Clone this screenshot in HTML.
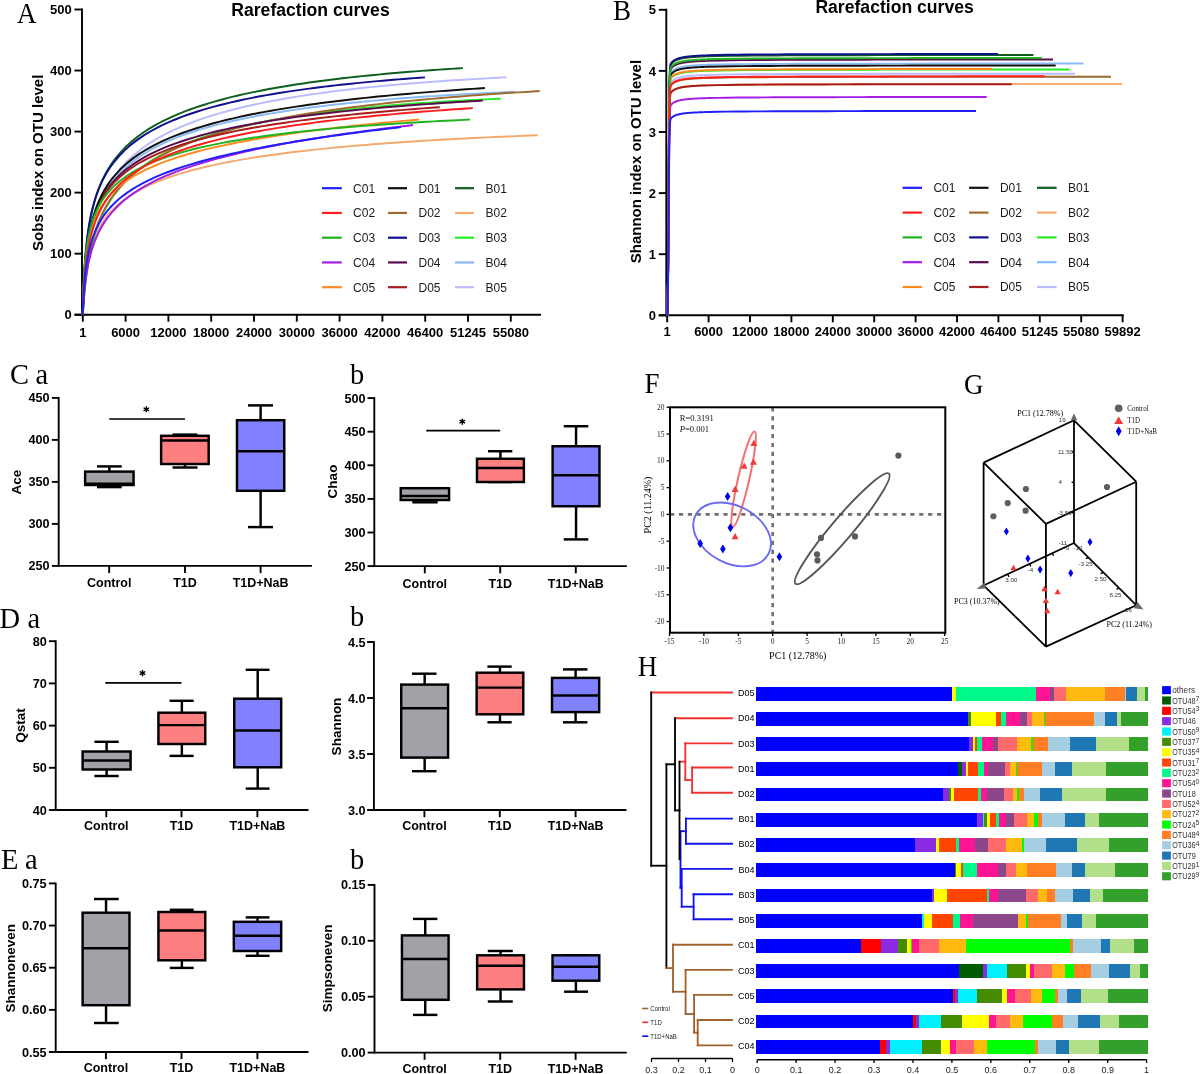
<!DOCTYPE html>
<html><head><meta charset="utf-8"><style>
html,body{margin:0;padding:0;background:#fff;}
body{width:1200px;height:1074px;overflow:hidden;}
svg{display:block;will-change:transform;}
</style></head><body>
<svg width="1200" height="1074" viewBox="0 0 1200 1074">
<rect x="0" y="0" width="1200" height="1074" fill="#fff"/>
<line x1="82.00" y1="8.60" x2="82.00" y2="315.60" stroke="#000" stroke-width="1.9" />
<line x1="74.50" y1="314.70" x2="541.00" y2="314.70" stroke="#000" stroke-width="1.9" />
<line x1="74.50" y1="9.50" x2="82.00" y2="9.50" stroke="#000" stroke-width="1.9" />
<text x="71.80" y="14.10" font-family="Liberation Sans" font-size="13" font-weight="bold" text-anchor="end" fill="#000" >500</text>
<line x1="74.50" y1="70.54" x2="82.00" y2="70.54" stroke="#000" stroke-width="1.9" />
<text x="71.80" y="75.14" font-family="Liberation Sans" font-size="13" font-weight="bold" text-anchor="end" fill="#000" >400</text>
<line x1="74.50" y1="131.58" x2="82.00" y2="131.58" stroke="#000" stroke-width="1.9" />
<text x="71.80" y="136.18" font-family="Liberation Sans" font-size="13" font-weight="bold" text-anchor="end" fill="#000" >300</text>
<line x1="74.50" y1="192.62" x2="82.00" y2="192.62" stroke="#000" stroke-width="1.9" />
<text x="71.80" y="197.22" font-family="Liberation Sans" font-size="13" font-weight="bold" text-anchor="end" fill="#000" >200</text>
<line x1="74.50" y1="253.66" x2="82.00" y2="253.66" stroke="#000" stroke-width="1.9" />
<text x="71.80" y="258.26" font-family="Liberation Sans" font-size="13" font-weight="bold" text-anchor="end" fill="#000" >100</text>
<line x1="74.50" y1="314.70" x2="82.00" y2="314.70" stroke="#000" stroke-width="1.9" />
<text x="71.80" y="319.30" font-family="Liberation Sans" font-size="13" font-weight="bold" text-anchor="end" fill="#000" >0</text>
<line x1="82.80" y1="314.70" x2="82.80" y2="321.70" stroke="#000" stroke-width="1.9" />
<text x="82.80" y="336.70" font-family="Liberation Sans" font-size="13" font-weight="bold" text-anchor="middle" fill="#000" >1</text>
<line x1="125.60" y1="314.70" x2="125.60" y2="321.70" stroke="#000" stroke-width="1.9" />
<text x="125.60" y="336.70" font-family="Liberation Sans" font-size="13" font-weight="bold" text-anchor="middle" fill="#000" >6000</text>
<line x1="168.40" y1="314.70" x2="168.40" y2="321.70" stroke="#000" stroke-width="1.9" />
<text x="168.40" y="336.70" font-family="Liberation Sans" font-size="13" font-weight="bold" text-anchor="middle" fill="#000" >12000</text>
<line x1="211.20" y1="314.70" x2="211.20" y2="321.70" stroke="#000" stroke-width="1.9" />
<text x="211.20" y="336.70" font-family="Liberation Sans" font-size="13" font-weight="bold" text-anchor="middle" fill="#000" >18000</text>
<line x1="254.00" y1="314.70" x2="254.00" y2="321.70" stroke="#000" stroke-width="1.9" />
<text x="254.00" y="336.70" font-family="Liberation Sans" font-size="13" font-weight="bold" text-anchor="middle" fill="#000" >24000</text>
<line x1="296.80" y1="314.70" x2="296.80" y2="321.70" stroke="#000" stroke-width="1.9" />
<text x="296.80" y="336.70" font-family="Liberation Sans" font-size="13" font-weight="bold" text-anchor="middle" fill="#000" >30000</text>
<line x1="339.60" y1="314.70" x2="339.60" y2="321.70" stroke="#000" stroke-width="1.9" />
<text x="339.60" y="336.70" font-family="Liberation Sans" font-size="13" font-weight="bold" text-anchor="middle" fill="#000" >36000</text>
<line x1="382.40" y1="314.70" x2="382.40" y2="321.70" stroke="#000" stroke-width="1.9" />
<text x="382.40" y="336.70" font-family="Liberation Sans" font-size="13" font-weight="bold" text-anchor="middle" fill="#000" >42000</text>
<line x1="425.20" y1="314.70" x2="425.20" y2="321.70" stroke="#000" stroke-width="1.9" />
<text x="425.20" y="336.70" font-family="Liberation Sans" font-size="13" font-weight="bold" text-anchor="middle" fill="#000" >46400</text>
<line x1="468.00" y1="314.70" x2="468.00" y2="321.70" stroke="#000" stroke-width="1.9" />
<text x="468.00" y="336.70" font-family="Liberation Sans" font-size="13" font-weight="bold" text-anchor="middle" fill="#000" >51245</text>
<line x1="510.80" y1="314.70" x2="510.80" y2="321.70" stroke="#000" stroke-width="1.9" />
<text x="510.80" y="336.70" font-family="Liberation Sans" font-size="13" font-weight="bold" text-anchor="middle" fill="#000" >55080</text>
<polyline points="82.80,314.70 83.05,308.64 83.30,303.25 83.55,298.40 83.80,294.00 84.05,289.96 84.30,286.23 84.55,282.78 84.80,279.55 85.05,276.53 85.30,273.68 85.55,271.00 85.80,268.45 86.10,265.57 86.78,259.56 87.47,254.23 88.15,249.43 88.84,245.07 89.52,241.07 90.21,237.38 90.89,233.96 91.58,230.76 92.26,227.77 92.95,224.95 93.63,222.29 94.32,219.78 95.00,217.39 95.68,215.11 96.37,212.94 97.05,210.87 97.74,208.88 98.42,206.97 99.11,205.14 99.79,203.38 100.48,201.68 101.16,200.04 101.85,198.46 102.53,196.93 103.22,195.45 103.90,194.01 104.58,192.62 105.27,191.26 105.95,189.95 106.64,188.67 107.32,187.43 108.01,186.22 108.69,185.04 109.38,183.89 110.06,182.77 110.75,181.68 111.43,180.61 112.12,179.57 112.80,178.55 113.80,177.10 120.46,168.49 127.11,161.28 133.77,155.10 140.42,149.70 147.08,144.92 153.74,140.64 160.39,136.77 167.05,133.25 173.70,130.03 180.36,127.05 187.02,124.30 193.67,121.75 200.33,119.36 206.98,117.13 213.64,115.04 220.29,113.07 226.95,111.22 233.61,109.47 240.26,107.81 246.92,106.24 253.57,104.75 260.23,103.33 266.89,101.98 273.54,100.70 280.20,99.47 286.85,98.30 293.51,97.18 300.17,96.11 306.82,95.08 313.48,94.10 320.13,93.16 326.79,92.26 333.45,91.39 340.10,90.56 346.76,89.76 353.41,88.99 360.07,88.25 366.73,87.54 373.38,86.85 380.04,86.19 386.69,85.56 393.35,84.94 400.01,84.35 406.66,83.79 413.32,83.24 419.97,82.71 426.63,82.20 433.28,81.71 439.94,81.23 446.60,80.77 453.25,80.33 459.91,79.91 466.56,79.50 473.22,79.10 479.88,78.72 486.53,78.35 493.19,77.99 499.84,77.65 506.50,77.31" fill="none" stroke="#bbbbff" stroke-width="1.95" stroke-linejoin="round"/>
<polyline points="82.80,314.70 83.05,307.19 83.30,300.83 83.55,295.30 83.80,290.42 84.05,286.06 84.30,282.10 84.55,278.49 84.80,275.16 85.05,272.08 85.30,269.21 85.55,266.53 85.80,264.01 86.10,261.17 86.78,255.34 87.47,250.23 88.15,245.67 88.84,241.57 89.52,237.84 90.21,234.41 90.89,231.25 91.58,228.31 92.26,225.57 92.95,223.00 93.63,220.58 94.32,218.29 95.00,216.13 95.68,214.07 96.37,212.11 97.05,210.25 97.74,208.46 98.42,206.75 99.11,205.11 99.79,203.53 100.48,202.01 101.16,200.55 101.85,199.13 102.53,197.77 103.22,196.45 103.90,195.17 104.58,193.93 105.27,192.73 105.95,191.56 106.64,190.43 107.32,189.33 108.01,188.25 108.69,187.21 109.38,186.19 110.06,185.20 110.75,184.23 111.43,183.29 112.12,182.37 112.80,181.46 113.80,180.18 120.59,172.44 127.39,166.00 134.18,160.50 140.98,155.71 147.77,151.47 154.57,147.69 161.36,144.27 168.16,141.16 174.95,138.32 181.75,135.70 188.54,133.28 195.34,131.03 202.13,128.93 208.93,126.97 215.72,125.13 222.52,123.39 229.31,121.76 236.11,120.22 242.90,118.76 249.70,117.38 256.49,116.07 263.29,114.82 270.08,113.63 276.88,112.50 283.67,111.42 290.47,110.39 297.26,109.40 304.06,108.45 310.85,107.55 317.65,106.68 324.44,105.85 331.24,105.05 338.03,104.29 344.83,103.55 351.62,102.84 358.42,102.16 365.21,101.51 372.01,100.87 378.80,100.27 385.60,99.68 392.39,99.12 399.19,98.57 405.98,98.05 412.78,97.54 419.57,97.06 426.37,96.58 433.16,96.13 439.96,95.69 446.75,95.27 453.55,94.86 460.34,94.46 467.14,94.08 473.93,93.71 480.73,93.36 487.52,93.01 494.32,92.68 501.11,92.36 507.91,92.05 514.70,91.75" fill="none" stroke="#88bbf5" stroke-width="1.95" stroke-linejoin="round"/>
<polyline points="82.80,314.70 83.05,308.77 83.30,303.74 83.55,299.39 83.80,295.54 84.05,292.09 84.30,288.97 84.55,286.13 84.80,283.51 85.05,281.08 85.30,278.82 85.55,276.70 85.80,274.72 86.10,272.48 86.78,267.89 87.47,263.86 88.15,260.27 88.84,257.03 89.52,254.09 90.21,251.39 90.89,248.90 91.58,246.59 92.26,244.43 92.95,242.40 93.63,240.49 94.32,238.69 95.00,236.98 95.68,235.36 96.37,233.82 97.05,232.34 97.74,230.94 98.42,229.59 99.11,228.29 99.79,227.05 100.48,225.85 101.16,224.69 101.85,223.58 102.53,222.50 103.22,221.46 103.90,220.45 104.58,219.47 105.27,218.52 105.95,217.60 106.64,216.70 107.32,215.83 108.01,214.98 108.69,214.16 109.38,213.35 110.06,212.57 110.75,211.80 111.43,211.05 112.12,210.33 112.80,209.61 113.80,208.60 120.98,202.15 128.17,196.82 135.35,192.30 142.54,188.36 149.72,184.90 156.91,181.80 164.09,179.01 171.28,176.48 178.46,174.16 185.65,172.02 192.83,170.04 200.02,168.20 207.20,166.49 214.39,164.88 221.57,163.38 228.76,161.96 235.94,160.62 243.13,159.36 250.31,158.16 257.49,157.02 264.68,155.94 271.86,154.91 279.05,153.93 286.23,152.99 293.42,152.09 300.60,151.24 307.79,150.42 314.97,149.63 322.16,148.87 329.34,148.15 336.53,147.45 343.71,146.78 350.90,146.14 358.08,145.52 365.27,144.92 372.45,144.34 379.64,143.79 386.82,143.25 394.01,142.73 401.19,142.23 408.37,141.75 415.56,141.28 422.74,140.83 429.93,140.40 437.11,139.97 444.30,139.56 451.48,139.17 458.67,138.79 465.85,138.42 473.04,138.06 480.22,137.71 487.41,137.37 494.59,137.04 501.78,136.73 508.96,136.42 516.15,136.12 523.33,135.84 530.52,135.56 537.70,135.28" fill="none" stroke="#f3aa6e" stroke-width="1.95" stroke-linejoin="round"/>
<polyline points="82.80,314.70 83.05,310.68 83.30,306.97 83.55,303.52 83.80,300.29 84.05,297.26 84.30,294.41 84.55,291.72 84.80,289.16 85.05,286.73 85.30,284.42 85.55,282.21 85.80,280.09 86.10,277.67 86.78,272.55 87.47,267.92 88.15,263.69 88.84,259.80 89.52,256.20 90.21,252.84 90.89,249.71 91.58,246.76 92.26,243.98 92.95,241.36 93.63,238.87 94.32,236.50 95.00,234.24 95.68,232.09 96.37,230.03 97.05,228.05 97.74,226.15 98.42,224.33 99.11,222.57 99.79,220.88 100.48,219.24 101.16,217.66 101.85,216.13 102.53,214.65 103.22,213.21 103.90,211.82 104.58,210.46 105.27,209.15 105.95,207.87 106.64,206.62 107.32,205.41 108.01,204.23 108.69,203.08 109.38,201.96 110.06,200.86 110.75,199.79 111.43,198.74 112.12,197.72 112.80,196.72 113.80,195.29 120.36,186.93 126.91,179.90 133.47,173.84 140.02,168.54 146.58,163.84 153.14,159.63 159.69,155.82 166.25,152.35 172.80,149.17 179.36,146.25 185.92,143.54 192.47,141.03 199.03,138.69 205.58,136.50 212.14,134.45 218.69,132.53 225.25,130.72 231.81,129.01 238.36,127.40 244.92,125.87 251.47,124.42 258.03,123.05 264.59,121.74 271.14,120.50 277.70,119.32 284.25,118.20 290.81,117.12 297.37,116.10 303.92,115.12 310.48,114.18 317.03,113.29 323.59,112.43 330.15,111.61 336.70,110.82 343.26,110.07 349.81,109.35 356.37,108.66 362.93,107.99 369.48,107.36 376.04,106.74 382.59,106.16 389.15,105.59 395.71,105.05 402.26,104.53 408.82,104.03 415.37,103.55 421.93,103.09 428.48,102.65 435.04,102.22 441.60,101.81 448.15,101.42 454.71,101.04 461.26,100.68 467.82,100.33 474.38,99.99 480.93,99.67 487.49,99.36 494.04,99.07 500.60,98.78" fill="none" stroke="#22ee22" stroke-width="1.95" stroke-linejoin="round"/>
<polyline points="82.80,314.70 83.05,304.88 83.30,296.83 83.55,290.00 83.80,284.07 84.05,278.83 84.30,274.14 84.55,269.89 84.80,266.01 85.05,262.44 85.30,259.13 85.55,256.05 85.80,253.16 86.10,249.93 86.78,243.33 87.47,237.57 88.15,232.47 88.84,227.90 89.52,223.75 90.21,219.95 90.89,216.45 91.58,213.21 92.26,210.19 92.95,207.36 93.63,204.70 94.32,202.19 95.00,199.82 95.68,197.57 96.37,195.43 97.05,193.39 97.74,191.43 98.42,189.57 99.11,187.77 99.79,186.05 100.48,184.40 101.16,182.80 101.85,181.26 102.53,179.78 103.22,178.34 103.90,176.95 104.58,175.60 105.27,174.30 105.95,173.03 106.64,171.80 107.32,170.60 108.01,169.44 108.69,168.30 109.38,167.20 110.06,166.12 110.75,165.07 111.43,164.05 112.12,163.05 112.80,162.07 113.80,160.68 119.72,153.30 125.63,147.03 131.55,141.59 137.47,136.80 143.38,132.53 149.30,128.69 155.22,125.19 161.14,121.99 167.05,119.05 172.97,116.32 178.89,113.79 184.80,111.43 190.72,109.23 196.64,107.15 202.55,105.20 208.47,103.36 214.39,101.62 220.31,99.97 226.22,98.41 232.14,96.92 238.06,95.50 243.97,94.15 249.89,92.86 255.81,91.63 261.72,90.45 267.64,89.32 273.56,88.24 279.47,87.20 285.39,86.20 291.31,85.25 297.23,84.32 303.14,83.44 309.06,82.58 314.98,81.76 320.89,80.96 326.81,80.20 332.73,79.46 338.64,78.75 344.56,78.06 350.48,77.39 356.39,76.75 362.31,76.13 368.23,75.53 374.15,74.94 380.06,74.38 385.98,73.84 391.90,73.31 397.81,72.80 403.73,72.30 409.65,71.82 415.56,71.36 421.48,70.90 427.40,70.47 433.32,70.04 439.23,69.63 445.15,69.23 451.07,68.85 456.98,68.47 462.90,68.11" fill="none" stroke="#0e5e1e" stroke-width="1.95" stroke-linejoin="round"/>
<polyline points="82.80,314.70 83.05,310.18 83.30,306.06 83.55,302.29 83.80,298.80 84.05,295.56 84.30,292.53 84.55,289.69 84.80,287.02 85.05,284.49 85.30,282.10 85.55,279.82 85.80,277.65 86.10,275.18 86.78,270.00 87.47,265.34 88.15,261.11 88.84,257.25 89.52,253.68 90.21,250.38 90.89,247.30 91.58,244.41 92.26,241.70 92.95,239.14 93.63,236.71 94.32,234.41 95.00,232.22 95.68,230.14 96.37,228.14 97.05,226.23 97.74,224.40 98.42,222.64 99.11,220.94 99.79,219.31 100.48,217.73 101.16,216.21 101.85,214.74 102.53,213.31 103.22,211.93 103.90,210.59 104.58,209.29 105.27,208.03 105.95,206.80 106.64,205.60 107.32,204.44 108.01,203.30 108.69,202.20 109.38,201.12 110.06,200.06 110.75,199.04 111.43,198.03 112.12,197.05 112.80,196.09 113.80,194.72 121.02,185.94 128.24,178.64 135.46,172.41 142.68,166.99 149.90,162.19 157.12,157.89 164.34,154.01 171.56,150.47 178.78,147.22 186.00,144.23 193.22,141.45 200.44,138.87 207.66,136.46 214.88,134.19 222.11,132.06 229.33,130.05 236.55,128.15 243.77,126.36 250.99,124.65 258.21,123.03 265.43,121.48 272.65,120.01 279.87,118.60 287.09,117.25 294.31,115.97 301.53,114.73 308.75,113.55 315.97,112.41 323.19,111.31 330.41,110.26 337.63,109.25 344.85,108.27 352.07,107.33 359.29,106.42 366.51,105.54 373.73,104.70 380.95,103.88 388.17,103.09 395.39,102.32 402.61,101.58 409.83,100.87 417.05,100.17 424.27,99.50 431.49,98.85 438.72,98.21 445.94,97.60 453.16,97.00 460.38,96.43 467.60,95.87 474.82,95.32 482.04,94.79 489.26,94.28 496.48,93.78 503.70,93.29 510.92,92.82 518.14,92.36 525.36,91.92 532.58,91.49 539.80,91.06" fill="none" stroke="#9c6a2e" stroke-width="1.95" stroke-linejoin="round"/>
<polyline points="82.80,314.70 83.05,304.94 83.30,297.24 83.55,290.88 83.80,285.46 84.05,280.74 84.30,276.56 84.55,272.81 84.80,269.41 85.05,266.30 85.30,263.43 85.55,260.77 85.80,258.30 86.10,255.53 86.78,249.90 87.47,245.03 88.15,240.73 88.84,236.89 89.52,233.41 90.21,230.24 90.89,227.32 91.58,224.62 92.26,222.10 92.95,219.75 93.63,217.55 94.32,215.47 95.00,213.50 95.68,211.64 96.37,209.87 97.05,208.18 97.74,206.56 98.42,205.02 99.11,203.54 99.79,202.12 100.48,200.75 101.16,199.43 101.85,198.16 102.53,196.94 103.22,195.75 103.90,194.60 104.58,193.49 105.27,192.41 105.95,191.37 106.64,190.35 107.32,189.37 108.01,188.40 108.69,187.47 109.38,186.56 110.06,185.67 110.75,184.80 111.43,183.96 112.12,183.13 112.80,182.33 113.80,181.18 120.05,174.77 126.31,169.36 132.56,164.69 138.82,160.59 145.07,156.95 151.33,153.66 157.58,150.68 163.83,147.96 170.09,145.45 176.34,143.13 182.60,140.97 188.85,138.95 195.11,137.07 201.36,135.29 207.61,133.62 213.87,132.04 220.12,130.54 226.38,129.13 232.63,127.78 238.88,126.49 245.14,125.26 251.39,124.09 257.65,122.97 263.90,121.90 270.16,120.87 276.41,119.88 282.66,118.94 288.92,118.02 295.17,117.14 301.43,116.30 307.68,115.48 313.94,114.69 320.19,113.93 326.44,113.20 332.70,112.49 338.95,111.80 345.21,111.14 351.46,110.49 357.72,109.87 363.97,109.27 370.22,108.68 376.48,108.11 382.73,107.56 388.99,107.03 395.24,106.51 401.49,106.00 407.75,105.51 414.00,105.04 420.26,104.57 426.51,104.12 432.77,103.68 439.02,103.26 445.27,102.84 451.53,102.44 457.78,102.04 464.04,101.66 470.29,101.29 476.55,100.92 482.80,100.57" fill="none" stroke="#5a0a50" stroke-width="1.95" stroke-linejoin="round"/>
<polyline points="82.80,314.70 83.05,304.05 83.30,295.91 83.55,289.33 83.80,283.80 84.05,279.04 84.30,274.85 84.55,271.12 84.80,267.75 85.05,264.68 85.30,261.86 85.55,259.26 85.80,256.83 86.10,254.13 86.78,248.66 87.47,243.95 88.15,239.80 88.84,236.09 89.52,232.75 90.21,229.70 90.89,226.90 91.58,224.32 92.26,221.91 92.95,219.66 93.63,217.55 94.32,215.57 95.00,213.69 95.68,211.91 96.37,210.22 97.05,208.61 97.74,207.07 98.42,205.59 99.11,204.18 99.79,202.83 100.48,201.53 101.16,200.27 101.85,199.06 102.53,197.89 103.22,196.76 103.90,195.67 104.58,194.61 105.27,193.59 105.95,192.59 106.64,191.62 107.32,190.68 108.01,189.77 108.69,188.88 109.38,188.01 110.06,187.17 110.75,186.34 111.43,185.54 112.12,184.75 112.80,183.98 113.80,182.89 119.33,177.44 124.85,172.76 130.38,168.67 135.90,165.03 141.43,161.77 146.95,158.81 152.48,156.10 158.00,153.61 163.53,151.30 169.05,149.16 174.58,147.15 180.11,145.27 185.63,143.50 191.16,141.84 196.68,140.26 202.21,138.76 207.73,137.34 213.26,135.98 218.78,134.69 224.31,133.46 229.83,132.27 235.36,131.14 240.88,130.05 246.41,129.01 251.94,128.00 257.46,127.04 262.99,126.10 268.51,125.20 274.04,124.33 279.56,123.49 285.09,122.68 290.61,121.89 296.14,121.13 301.66,120.39 307.19,119.68 312.72,118.98 318.24,118.31 323.77,117.65 329.29,117.01 334.82,116.40 340.34,115.79 345.87,115.21 351.39,114.64 356.92,114.08 362.44,113.54 367.97,113.01 373.49,112.49 379.02,111.99 384.55,111.50 390.07,111.02 395.60,110.56 401.12,110.10 406.65,109.65 412.17,109.22 417.70,108.79 423.22,108.38 428.75,107.97 434.27,107.57 439.80,107.18" fill="none" stroke="#a81c1c" stroke-width="1.95" stroke-linejoin="round"/>
<polyline points="82.80,314.70 83.05,305.59 83.30,298.19 83.55,291.95 83.80,286.57 84.05,281.83 84.30,277.59 84.55,273.77 84.80,270.28 85.05,267.07 85.30,264.11 85.55,261.35 85.80,258.77 86.10,255.88 86.78,249.99 87.47,244.86 88.15,240.32 88.84,236.25 89.52,232.56 90.21,229.19 90.89,226.08 91.58,223.21 92.26,220.52 92.95,218.01 93.63,215.65 94.32,213.43 95.00,211.32 95.68,209.32 96.37,207.42 97.05,205.61 97.74,203.88 98.42,202.22 99.11,200.63 99.79,199.10 100.48,197.63 101.16,196.22 101.85,194.85 102.53,193.53 103.22,192.26 103.90,191.02 104.58,189.82 105.27,188.66 105.95,187.54 106.64,186.44 107.32,185.38 108.01,184.34 108.69,183.33 109.38,182.35 110.06,181.39 110.75,180.46 111.43,179.54 112.12,178.65 112.80,177.78 113.80,176.55 120.09,169.58 126.38,163.70 132.67,158.62 138.96,154.17 145.25,150.20 151.54,146.62 157.83,143.38 164.12,140.40 170.41,137.67 176.70,135.13 182.99,132.78 189.28,130.58 195.57,128.51 201.86,126.57 208.15,124.74 214.44,123.01 220.73,121.37 227.02,119.81 233.31,118.33 239.60,116.92 245.89,115.57 252.18,114.29 258.47,113.05 264.76,111.87 271.05,110.74 277.34,109.65 283.63,108.60 289.92,107.59 296.21,106.62 302.49,105.69 308.78,104.78 315.07,103.91 321.36,103.07 327.65,102.25 333.94,101.46 340.23,100.70 346.52,99.96 352.81,99.24 359.10,98.55 365.39,97.88 371.68,97.22 377.97,96.59 384.26,95.97 390.55,95.37 396.84,94.79 403.13,94.22 409.42,93.67 415.71,93.13 422.00,92.61 428.29,92.11 434.58,91.61 440.87,91.13 447.16,90.66 453.45,90.20 459.74,89.76 466.03,89.32 472.32,88.90 478.61,88.49 484.90,88.08" fill="none" stroke="#111111" stroke-width="1.95" stroke-linejoin="round"/>
<polyline points="82.80,314.70 83.05,303.86 83.30,295.23 83.55,288.06 83.80,281.93 84.05,276.58 84.30,271.83 84.55,267.55 84.80,263.67 85.05,260.12 85.30,256.84 85.55,253.80 85.80,250.96 86.10,247.79 86.78,241.34 87.47,235.74 88.15,230.80 88.84,226.38 89.52,222.38 90.21,218.73 90.89,215.37 91.58,212.27 92.26,209.37 92.95,206.67 93.63,204.13 94.32,201.73 95.00,199.47 95.68,197.32 96.37,195.28 97.05,193.34 97.74,191.48 98.42,189.70 99.11,188.00 99.79,186.36 100.48,184.79 101.16,183.27 101.85,181.81 102.53,180.40 103.22,179.04 103.90,177.72 104.58,176.44 105.27,175.20 105.95,174.00 106.64,172.84 107.32,171.70 108.01,170.60 108.69,169.52 109.38,168.48 110.06,167.46 110.75,166.46 111.43,165.49 112.12,164.55 112.80,163.62 113.80,162.31 119.07,156.02 124.35,150.60 129.62,145.86 134.90,141.63 140.17,137.84 145.45,134.40 150.72,131.26 156.00,128.37 161.27,125.69 166.55,123.21 171.82,120.90 177.09,118.73 182.37,116.70 187.64,114.79 192.92,112.98 198.19,111.28 203.47,109.66 208.74,108.12 214.02,106.66 219.29,105.26 224.57,103.93 229.84,102.66 235.12,101.45 240.39,100.28 245.66,99.17 250.94,98.10 256.21,97.07 261.49,96.08 266.76,95.13 272.04,94.21 277.31,93.33 282.59,92.47 287.86,91.65 293.14,90.86 298.41,90.09 303.68,89.35 308.96,88.64 314.23,87.94 319.51,87.27 324.78,86.62 330.06,85.99 335.33,85.39 340.61,84.80 345.88,84.22 351.16,83.67 356.43,83.13 361.71,82.61 366.98,82.10 372.25,81.61 377.53,81.13 382.80,80.66 388.08,80.21 393.35,79.77 398.63,79.35 403.90,78.93 409.18,78.53 414.45,78.14 419.73,77.76 425.00,77.39" fill="none" stroke="#10108c" stroke-width="1.95" stroke-linejoin="round"/>
<polyline points="82.80,314.70 83.05,303.75 83.30,295.68 83.55,289.27 83.80,283.97 84.05,279.44 84.30,275.49 84.55,271.98 84.80,268.83 85.05,265.97 85.30,263.36 85.55,260.94 85.80,258.70 86.10,256.21 86.78,251.18 87.47,246.86 88.15,243.06 88.84,239.68 89.52,236.63 90.21,233.86 90.89,231.31 91.58,228.95 92.26,226.77 92.95,224.72 93.63,222.81 94.32,221.00 95.00,219.30 95.68,217.68 96.37,216.14 97.05,214.68 97.74,213.28 98.42,211.95 99.11,210.67 99.79,209.44 100.48,208.25 101.16,207.11 101.85,206.01 102.53,204.95 103.22,203.93 103.90,202.93 104.58,201.97 105.27,201.04 105.95,200.13 106.64,199.25 107.32,198.40 108.01,197.57 108.69,196.76 109.38,195.97 110.06,195.20 110.75,194.45 111.43,193.71 112.12,193.00 112.80,192.30 113.80,191.30 118.97,186.62 124.14,182.56 129.31,178.97 134.48,175.76 139.66,172.86 144.83,170.20 150.00,167.77 155.17,165.51 160.34,163.41 165.51,161.44 170.68,159.60 175.85,157.86 181.03,156.22 186.20,154.67 191.37,153.19 196.54,151.78 201.71,150.43 206.88,149.14 212.05,147.91 217.22,146.72 222.39,145.59 227.57,144.49 232.74,143.43 237.91,142.41 243.08,141.43 248.25,140.47 253.42,139.55 258.59,138.66 263.76,137.79 268.94,136.95 274.11,136.13 279.28,135.33 284.45,134.56 289.62,133.80 294.79,133.07 299.96,132.35 305.13,131.65 310.31,130.97 315.48,130.31 320.65,129.65 325.82,129.02 330.99,128.40 336.16,127.79 341.33,127.19 346.50,126.61 351.67,126.04 356.85,125.48 362.02,124.93 367.19,124.40 372.36,123.87 377.53,123.35 382.70,122.84 387.87,122.35 393.04,121.86 398.22,121.37 403.39,120.90 408.56,120.44 413.73,119.98 418.90,119.53" fill="none" stroke="#ff8a1e" stroke-width="1.95" stroke-linejoin="round"/>
<polyline points="82.80,314.70 83.05,309.97 83.30,305.80 83.55,302.06 83.80,298.67 84.05,295.58 84.30,292.74 84.55,290.10 84.80,287.65 85.05,285.35 85.30,283.19 85.55,281.16 85.80,279.23 86.10,277.05 86.78,272.52 87.47,268.50 88.15,264.88 88.84,261.60 89.52,258.59 90.21,255.82 90.89,253.24 91.58,250.84 92.26,248.59 92.95,246.47 93.63,244.47 94.32,242.58 95.00,240.78 95.68,239.07 96.37,237.43 97.05,235.87 97.74,234.37 98.42,232.93 99.11,231.55 99.79,230.22 100.48,228.93 101.16,227.69 101.85,226.49 102.53,225.33 103.22,224.21 103.90,223.12 104.58,222.06 105.27,221.03 105.95,220.04 106.64,219.06 107.32,218.12 108.01,217.19 108.69,216.30 109.38,215.42 110.06,214.56 110.75,213.72 111.43,212.91 112.12,212.11 112.80,211.32 113.80,210.21 118.87,205.04 123.94,200.51 129.01,196.49 134.08,192.87 139.16,189.57 144.23,186.55 149.30,183.76 154.37,181.17 159.44,178.74 164.51,176.47 169.58,174.32 174.65,172.30 179.73,170.38 184.80,168.55 189.87,166.81 194.94,165.14 200.01,163.55 205.08,162.02 210.15,160.55 215.22,159.13 220.29,157.77 225.37,156.45 230.44,155.18 235.51,153.94 240.58,152.75 245.65,151.59 250.72,150.47 255.79,149.37 260.86,148.31 265.94,147.27 271.01,146.27 276.08,145.28 281.15,144.32 286.22,143.39 291.29,142.47 296.36,141.58 301.43,140.70 306.51,139.85 311.58,139.01 316.65,138.19 321.72,137.39 326.79,136.60 331.86,135.82 336.93,135.06 342.00,134.32 347.07,133.59 352.15,132.87 357.22,132.16 362.29,131.47 367.36,130.78 372.43,130.11 377.50,129.45 382.57,128.80 387.64,128.16 392.72,127.53 397.79,126.90 402.86,126.29 407.93,125.69 413.00,125.09" fill="none" stroke="#a41ee6" stroke-width="1.95" stroke-linejoin="round"/>
<polyline points="82.80,314.70 83.05,302.30 83.30,293.45 83.55,286.55 83.80,280.90 84.05,276.11 84.30,271.96 84.55,268.30 84.80,265.02 85.05,262.05 85.30,259.34 85.55,256.84 85.80,254.53 86.10,251.97 86.78,246.81 87.47,242.38 88.15,238.50 88.84,235.05 89.52,231.95 90.21,229.13 90.89,226.54 91.58,224.16 92.26,221.94 92.95,219.87 93.63,217.94 94.32,216.11 95.00,214.39 95.68,212.76 96.37,211.22 97.05,209.74 97.74,208.34 98.42,206.99 99.11,205.71 99.79,204.47 100.48,203.28 101.16,202.14 101.85,201.04 102.53,199.98 103.22,198.95 103.90,197.96 104.58,197.00 105.27,196.07 105.95,195.16 106.64,194.29 107.32,193.43 108.01,192.61 108.69,191.80 109.38,191.01 110.06,190.25 110.75,189.50 111.43,188.78 112.12,188.07 112.80,187.37 113.80,186.39 119.84,181.05 125.87,176.54 131.91,172.65 137.95,169.22 143.99,166.17 150.02,163.42 156.06,160.93 162.10,158.65 168.14,156.54 174.17,154.60 180.21,152.80 186.25,151.11 192.28,149.54 198.32,148.05 204.36,146.66 210.40,145.34 216.43,144.10 222.47,142.91 228.51,141.79 234.55,140.72 240.58,139.71 246.62,138.73 252.66,137.81 258.69,136.92 264.73,136.07 270.77,135.25 276.81,134.47 282.84,133.72 288.88,132.99 294.92,132.30 300.96,131.63 306.99,130.98 313.03,130.36 319.07,129.76 325.11,129.17 331.14,128.61 337.18,128.07 343.22,127.55 349.25,127.04 355.29,126.55 361.33,126.08 367.37,125.62 373.40,125.17 379.44,124.74 385.48,124.32 391.52,123.91 397.55,123.52 403.59,123.14 409.63,122.77 415.66,122.41 421.70,122.06 427.74,121.72 433.78,121.39 439.81,121.07 445.85,120.75 451.89,120.45 457.93,120.16 463.96,119.87 470.00,119.59" fill="none" stroke="#1fb41f" stroke-width="1.95" stroke-linejoin="round"/>
<polyline points="82.80,314.70 83.05,307.03 83.30,300.68 83.55,295.27 83.80,290.56 84.05,286.38 84.30,282.63 84.55,279.22 84.80,276.11 85.05,273.24 85.30,270.58 85.55,268.09 85.80,265.77 86.10,263.16 86.78,257.82 87.47,253.17 88.15,249.04 88.84,245.32 89.52,241.95 90.21,238.87 90.89,236.02 91.58,233.39 92.26,230.93 92.95,228.62 93.63,226.45 94.32,224.41 95.00,222.47 95.68,220.63 96.37,218.88 97.05,217.22 97.74,215.62 98.42,214.09 99.11,212.63 99.79,211.22 100.48,209.86 101.16,208.56 101.85,207.30 102.53,206.08 103.22,204.90 103.90,203.76 104.58,202.65 105.27,201.58 105.95,200.54 106.64,199.53 107.32,198.54 108.01,197.59 108.69,196.65 109.38,195.74 110.06,194.86 110.75,193.99 111.43,193.15 112.12,192.33 112.80,191.52 113.80,190.38 119.88,184.11 125.97,178.80 132.05,174.20 138.14,170.13 144.22,166.51 150.31,163.23 156.39,160.25 162.48,157.52 168.56,154.99 174.65,152.65 180.73,150.47 186.82,148.43 192.90,146.52 198.99,144.71 205.07,143.01 211.16,141.40 217.24,139.87 223.33,138.41 229.41,137.03 235.49,135.70 241.58,134.44 247.66,133.23 253.75,132.07 259.83,130.96 265.92,129.89 272.00,128.86 278.09,127.87 284.17,126.92 290.26,126.00 296.34,125.11 302.43,124.25 308.51,123.42 314.60,122.62 320.68,121.84 326.77,121.09 332.85,120.36 338.94,119.65 345.02,118.96 351.11,118.30 357.19,117.65 363.27,117.02 369.36,116.41 375.44,115.81 381.53,115.23 387.61,114.67 393.70,114.12 399.78,113.59 405.87,113.07 411.95,112.56 418.04,112.06 424.12,111.58 430.21,111.11 436.29,110.65 442.38,110.20 448.46,109.76 454.55,109.34 460.63,108.92 466.72,108.51 472.80,108.11" fill="none" stroke="#ff1e1e" stroke-width="1.95" stroke-linejoin="round"/>
<polyline points="82.80,314.70 83.05,307.26 83.30,301.25 83.55,296.21 83.80,291.87 84.05,288.06 84.30,284.66 84.55,281.60 84.80,278.81 85.05,276.24 85.30,273.87 85.55,271.67 85.80,269.61 86.10,267.31 86.78,262.61 87.47,258.53 88.15,254.92 88.84,251.68 89.52,248.74 90.21,246.05 90.89,243.58 91.58,241.28 92.26,239.15 92.95,237.14 93.63,235.26 94.32,233.49 95.00,231.80 95.68,230.21 96.37,228.69 97.05,227.24 97.74,225.85 98.42,224.52 99.11,223.25 99.79,222.02 100.48,220.84 101.16,219.70 101.85,218.61 102.53,217.55 103.22,216.52 103.90,215.52 104.58,214.56 105.27,213.62 105.95,212.71 106.64,211.83 107.32,210.97 108.01,210.13 108.69,209.31 109.38,208.52 110.06,207.74 110.75,206.98 111.43,206.24 112.12,205.51 112.80,204.81 113.80,203.80 118.67,199.30 123.53,195.36 128.40,191.84 133.26,188.66 138.13,185.77 143.00,183.11 147.86,180.64 152.73,178.35 157.59,176.20 162.46,174.18 167.33,172.28 172.19,170.48 177.06,168.76 181.93,167.13 186.79,165.57 191.66,164.08 196.52,162.65 201.39,161.27 206.26,159.95 211.12,158.67 215.99,157.44 220.85,156.24 225.72,155.09 230.59,153.97 235.45,152.88 240.32,151.83 245.18,150.80 250.05,149.80 254.92,148.83 259.78,147.88 264.65,146.95 269.52,146.05 274.38,145.17 279.25,144.30 284.11,143.46 288.98,142.63 293.85,141.82 298.71,141.02 303.58,140.24 308.44,139.48 313.31,138.73 318.18,137.99 323.04,137.27 327.91,136.56 332.77,135.86 337.64,135.17 342.51,134.49 347.37,133.83 352.24,133.17 357.11,132.52 361.97,131.89 366.84,131.26 371.70,130.64 376.57,130.03 381.44,129.43 386.30,128.83 391.17,128.24 396.03,127.67 400.90,127.09" fill="none" stroke="#1e1eff" stroke-width="1.95" stroke-linejoin="round"/>
<text x="310.50" y="16.30" font-family="Liberation Sans" font-size="17.6" font-weight="bold" text-anchor="middle" fill="#000" >Rarefaction curves</text>
<text transform="translate(42.6,162.8) rotate(-90)" font-family="Liberation Sans" font-size="15.05" font-weight="bold" text-anchor="middle">Sobs index on OTU level</text>
<text transform="translate(17.00,23.30) scale(0.937,1)" font-family="Liberation Serif" font-size="28.81">A</text>
<line x1="322.00" y1="188.20" x2="341.80" y2="188.20" stroke="#1e1eff" stroke-width="2.2" />
<text x="353.10" y="192.50" font-family="Liberation Sans" font-size="12" text-anchor="start" fill="#1a1a1a" >C01</text>
<line x1="322.00" y1="212.95" x2="341.80" y2="212.95" stroke="#ff1e1e" stroke-width="2.2" />
<text x="353.10" y="217.25" font-family="Liberation Sans" font-size="12" text-anchor="start" fill="#1a1a1a" >C02</text>
<line x1="322.00" y1="237.70" x2="341.80" y2="237.70" stroke="#1fb41f" stroke-width="2.2" />
<text x="353.10" y="242.00" font-family="Liberation Sans" font-size="12" text-anchor="start" fill="#1a1a1a" >C03</text>
<line x1="322.00" y1="262.45" x2="341.80" y2="262.45" stroke="#a41ee6" stroke-width="2.2" />
<text x="353.10" y="266.75" font-family="Liberation Sans" font-size="12" text-anchor="start" fill="#1a1a1a" >C04</text>
<line x1="322.00" y1="287.20" x2="341.80" y2="287.20" stroke="#ff8a1e" stroke-width="2.2" />
<text x="353.10" y="291.50" font-family="Liberation Sans" font-size="12" text-anchor="start" fill="#1a1a1a" >C05</text>
<line x1="388.00" y1="188.20" x2="407.00" y2="188.20" stroke="#111111" stroke-width="2.2" />
<text x="418.50" y="192.50" font-family="Liberation Sans" font-size="12" text-anchor="start" fill="#1a1a1a" >D01</text>
<line x1="388.00" y1="212.95" x2="407.00" y2="212.95" stroke="#9c6a2e" stroke-width="2.2" />
<text x="418.50" y="217.25" font-family="Liberation Sans" font-size="12" text-anchor="start" fill="#1a1a1a" >D02</text>
<line x1="388.00" y1="237.70" x2="407.00" y2="237.70" stroke="#10108c" stroke-width="2.2" />
<text x="418.50" y="242.00" font-family="Liberation Sans" font-size="12" text-anchor="start" fill="#1a1a1a" >D03</text>
<line x1="388.00" y1="262.45" x2="407.00" y2="262.45" stroke="#5a0a50" stroke-width="2.2" />
<text x="418.50" y="266.75" font-family="Liberation Sans" font-size="12" text-anchor="start" fill="#1a1a1a" >D04</text>
<line x1="388.00" y1="287.20" x2="407.00" y2="287.20" stroke="#a81c1c" stroke-width="2.2" />
<text x="418.50" y="291.50" font-family="Liberation Sans" font-size="12" text-anchor="start" fill="#1a1a1a" >D05</text>
<line x1="455.00" y1="188.20" x2="474.00" y2="188.20" stroke="#0e5e1e" stroke-width="2.2" />
<text x="485.50" y="192.50" font-family="Liberation Sans" font-size="12" text-anchor="start" fill="#1a1a1a" >B01</text>
<line x1="455.00" y1="212.95" x2="474.00" y2="212.95" stroke="#f3aa6e" stroke-width="2.2" />
<text x="485.50" y="217.25" font-family="Liberation Sans" font-size="12" text-anchor="start" fill="#1a1a1a" >B02</text>
<line x1="455.00" y1="237.70" x2="474.00" y2="237.70" stroke="#22ee22" stroke-width="2.2" />
<text x="485.50" y="242.00" font-family="Liberation Sans" font-size="12" text-anchor="start" fill="#1a1a1a" >B03</text>
<line x1="455.00" y1="262.45" x2="474.00" y2="262.45" stroke="#88bbf5" stroke-width="2.2" />
<text x="485.50" y="266.75" font-family="Liberation Sans" font-size="12" text-anchor="start" fill="#1a1a1a" >B04</text>
<line x1="455.00" y1="287.20" x2="474.00" y2="287.20" stroke="#bbbbff" stroke-width="2.2" />
<text x="485.50" y="291.50" font-family="Liberation Sans" font-size="12" text-anchor="start" fill="#1a1a1a" >B05</text>
<line x1="666.30" y1="8.80" x2="666.30" y2="316.20" stroke="#000" stroke-width="1.9" />
<line x1="658.80" y1="315.30" x2="1123.80" y2="315.30" stroke="#000" stroke-width="1.9" />
<line x1="658.80" y1="9.80" x2="666.30" y2="9.80" stroke="#000" stroke-width="1.9" />
<text x="656.00" y="14.40" font-family="Liberation Sans" font-size="13" font-weight="bold" text-anchor="end" fill="#000" >5</text>
<line x1="658.80" y1="70.90" x2="666.30" y2="70.90" stroke="#000" stroke-width="1.9" />
<text x="656.00" y="75.50" font-family="Liberation Sans" font-size="13" font-weight="bold" text-anchor="end" fill="#000" >4</text>
<line x1="658.80" y1="132.00" x2="666.30" y2="132.00" stroke="#000" stroke-width="1.9" />
<text x="656.00" y="136.60" font-family="Liberation Sans" font-size="13" font-weight="bold" text-anchor="end" fill="#000" >3</text>
<line x1="658.80" y1="193.10" x2="666.30" y2="193.10" stroke="#000" stroke-width="1.9" />
<text x="656.00" y="197.70" font-family="Liberation Sans" font-size="13" font-weight="bold" text-anchor="end" fill="#000" >2</text>
<line x1="658.80" y1="254.20" x2="666.30" y2="254.20" stroke="#000" stroke-width="1.9" />
<text x="656.00" y="258.80" font-family="Liberation Sans" font-size="13" font-weight="bold" text-anchor="end" fill="#000" >1</text>
<line x1="658.80" y1="315.30" x2="666.30" y2="315.30" stroke="#000" stroke-width="1.9" />
<text x="656.00" y="319.90" font-family="Liberation Sans" font-size="13" font-weight="bold" text-anchor="end" fill="#000" >0</text>
<line x1="667.20" y1="315.30" x2="667.20" y2="322.30" stroke="#000" stroke-width="1.9" />
<text x="667.20" y="336.30" font-family="Liberation Sans" font-size="13" font-weight="bold" text-anchor="middle" fill="#000" >1</text>
<line x1="708.60" y1="315.30" x2="708.60" y2="322.30" stroke="#000" stroke-width="1.9" />
<text x="708.60" y="336.30" font-family="Liberation Sans" font-size="13" font-weight="bold" text-anchor="middle" fill="#000" >6000</text>
<line x1="750.00" y1="315.30" x2="750.00" y2="322.30" stroke="#000" stroke-width="1.9" />
<text x="750.00" y="336.30" font-family="Liberation Sans" font-size="13" font-weight="bold" text-anchor="middle" fill="#000" >12000</text>
<line x1="791.40" y1="315.30" x2="791.40" y2="322.30" stroke="#000" stroke-width="1.9" />
<text x="791.40" y="336.30" font-family="Liberation Sans" font-size="13" font-weight="bold" text-anchor="middle" fill="#000" >18000</text>
<line x1="832.80" y1="315.30" x2="832.80" y2="322.30" stroke="#000" stroke-width="1.9" />
<text x="832.80" y="336.30" font-family="Liberation Sans" font-size="13" font-weight="bold" text-anchor="middle" fill="#000" >24000</text>
<line x1="874.20" y1="315.30" x2="874.20" y2="322.30" stroke="#000" stroke-width="1.9" />
<text x="874.20" y="336.30" font-family="Liberation Sans" font-size="13" font-weight="bold" text-anchor="middle" fill="#000" >30000</text>
<line x1="915.60" y1="315.30" x2="915.60" y2="322.30" stroke="#000" stroke-width="1.9" />
<text x="915.60" y="336.30" font-family="Liberation Sans" font-size="13" font-weight="bold" text-anchor="middle" fill="#000" >36000</text>
<line x1="957.00" y1="315.30" x2="957.00" y2="322.30" stroke="#000" stroke-width="1.9" />
<text x="957.00" y="336.30" font-family="Liberation Sans" font-size="13" font-weight="bold" text-anchor="middle" fill="#000" >42000</text>
<line x1="998.40" y1="315.30" x2="998.40" y2="322.30" stroke="#000" stroke-width="1.9" />
<text x="998.40" y="336.30" font-family="Liberation Sans" font-size="13" font-weight="bold" text-anchor="middle" fill="#000" >46400</text>
<line x1="1039.80" y1="315.30" x2="1039.80" y2="322.30" stroke="#000" stroke-width="1.9" />
<text x="1039.80" y="336.30" font-family="Liberation Sans" font-size="13" font-weight="bold" text-anchor="middle" fill="#000" >51245</text>
<line x1="1081.20" y1="315.30" x2="1081.20" y2="322.30" stroke="#000" stroke-width="1.9" />
<text x="1081.20" y="336.30" font-family="Liberation Sans" font-size="13" font-weight="bold" text-anchor="middle" fill="#000" >55080</text>
<line x1="1122.60" y1="315.30" x2="1122.60" y2="322.30" stroke="#000" stroke-width="1.9" />
<text x="1122.60" y="336.30" font-family="Liberation Sans" font-size="13" font-weight="bold" text-anchor="middle" fill="#000" >59892</text>
<polyline points="667.20,315.30 667.30,315.08 667.40,314.07 667.50,311.92 667.60,308.41 667.70,303.37 667.80,296.74 667.90,288.49 668.00,278.71 668.10,267.50 668.20,255.09 668.30,241.70 668.40,227.63 668.50,213.19 668.60,198.70 668.70,184.47 668.80,170.79 668.90,157.90 669.00,146.00 669.10,135.23 669.20,125.67 669.30,117.35 669.40,110.25 669.50,104.29 669.60,99.40 669.70,95.45 669.80,92.32 669.90,89.88 670.00,88.00 670.10,86.57 670.20,85.51 670.30,84.71 670.40,84.11 670.50,83.66 670.60,83.32 670.70,83.05 670.80,82.83 670.90,82.64 671.00,82.48 671.10,82.33 671.20,82.20 671.30,82.07 671.40,81.95 671.50,81.83 671.60,81.72 671.70,81.61 671.80,81.51 671.90,81.40 672.00,81.30 672.10,81.20 672.20,81.11 672.40,80.92 672.99,80.43 673.58,80.00 674.17,79.62 674.76,79.28 675.35,78.97 675.94,78.70 676.53,78.45 677.12,78.23 677.71,78.03 678.30,77.84 678.89,77.67 679.48,77.51 680.07,77.36 680.66,77.23 681.25,77.10 681.84,76.98 682.43,76.87 683.02,76.76 683.61,76.67 684.20,76.58 684.79,76.49 685.38,76.41 685.97,76.33 686.56,76.26 687.15,76.19 687.74,76.12 688.33,76.06 688.92,76.00 689.51,75.94 690.09,75.89 690.68,75.83 691.27,75.79 691.86,75.74 692.45,75.69 693.04,75.65 693.63,75.61 694.22,75.57 694.81,75.53 695.40,75.49 695.99,75.45 696.58,75.42 697.17,75.39 697.76,75.35 698.35,75.32 698.94,75.29 699.53,75.26 700.12,75.24 700.71,75.21 701.30,75.18 701.89,75.16 702.48,75.13 703.07,75.11 703.66,75.08 704.25,75.06 704.84,75.04 705.43,75.02 706.02,75.00 706.61,74.98 707.20,74.96 708.20,74.93 720.85,74.62 733.50,74.43 746.14,74.29 758.79,74.19 771.44,74.12 784.09,74.06 796.74,74.01 809.39,73.97 822.03,73.94 834.68,73.91 847.33,73.88 859.98,73.86 872.63,73.84 885.28,73.83 897.92,73.81 910.57,73.80 923.22,73.79 935.87,73.78 948.52,73.77 961.17,73.76 973.81,73.75 986.46,73.74 999.11,73.73 1011.76,73.73 1024.41,73.72 1037.06,73.71 1049.70,73.71 1062.35,73.70 1075.00,73.70" fill="none" stroke="#bbbbff" stroke-width="1.95" stroke-linejoin="round"/>
<polyline points="667.20,315.30 667.30,315.07 667.40,314.02 667.50,311.78 667.60,308.12 667.70,302.87 667.80,295.95 667.90,287.36 668.00,277.16 668.10,265.49 668.20,252.54 668.30,238.59 668.40,223.93 668.50,208.88 668.60,193.78 668.70,178.95 668.80,164.69 668.90,151.26 669.00,138.86 669.10,127.63 669.20,117.67 669.30,109.00 669.40,101.59 669.50,95.39 669.60,90.29 669.70,86.17 669.80,82.91 669.90,80.36 670.00,78.40 670.10,76.92 670.20,75.81 670.30,74.98 670.40,74.35 670.50,73.89 670.60,73.53 670.70,73.24 670.80,73.02 670.90,72.82 671.00,72.65 671.10,72.50 671.20,72.36 671.30,72.23 671.40,72.10 671.50,71.98 671.60,71.86 671.70,71.75 671.80,71.64 671.90,71.53 672.00,71.43 672.10,71.32 672.20,71.22 672.40,71.03 672.99,70.52 673.58,70.07 674.17,69.67 674.76,69.31 675.35,69.00 675.94,68.72 676.53,68.46 677.12,68.23 677.71,68.01 678.30,67.82 678.89,67.64 679.48,67.47 680.07,67.32 680.66,67.18 681.25,67.04 681.84,66.92 682.43,66.81 683.02,66.70 683.61,66.60 684.20,66.50 684.79,66.41 685.38,66.32 685.97,66.24 686.56,66.17 687.15,66.09 687.74,66.03 688.33,65.96 688.92,65.90 689.51,65.84 690.09,65.78 690.68,65.73 691.27,65.68 691.86,65.63 692.45,65.58 693.04,65.53 693.63,65.49 694.22,65.45 694.81,65.41 695.40,65.37 695.99,65.33 696.58,65.29 697.17,65.26 697.76,65.23 698.35,65.19 698.94,65.16 699.53,65.13 700.12,65.10 700.71,65.07 701.30,65.05 701.89,65.02 702.48,65.00 703.07,64.97 703.66,64.95 704.25,64.92 704.84,64.90 705.43,64.88 706.02,64.86 706.61,64.83 707.20,64.81 708.20,64.78 721.14,64.46 734.08,64.25 747.02,64.11 759.97,64.01 772.91,63.93 785.85,63.87 798.79,63.82 811.73,63.78 824.67,63.74 837.61,63.71 850.56,63.69 863.50,63.67 876.44,63.65 889.38,63.63 902.32,63.61 915.26,63.60 928.20,63.59 941.14,63.58 954.09,63.57 967.03,63.56 979.97,63.55 992.91,63.54 1005.85,63.53 1018.79,63.53 1031.73,63.52 1044.68,63.52 1057.62,63.51 1070.56,63.50 1083.50,63.50" fill="none" stroke="#88bbf5" stroke-width="1.95" stroke-linejoin="round"/>
<polyline points="667.20,315.30 667.30,315.09 667.40,314.12 667.50,312.07 667.60,308.70 667.70,303.88 667.80,297.53 667.90,289.64 668.00,280.27 668.10,269.55 668.20,257.66 668.30,244.84 668.40,231.37 668.50,217.55 668.60,203.68 668.70,190.06 668.80,176.96 668.90,164.62 669.00,153.23 669.10,142.92 669.20,133.77 669.30,125.80 669.40,119.00 669.50,113.30 669.60,108.62 669.70,104.84 669.80,101.84 669.90,99.50 670.00,97.70 670.10,96.34 670.20,95.32 670.30,94.55 670.40,93.98 670.50,93.55 670.60,93.22 670.70,92.96 670.80,92.75 670.90,92.57 671.00,92.42 671.10,92.28 671.20,92.15 671.30,92.03 671.40,91.91 671.50,91.80 671.60,91.69 671.70,91.59 671.80,91.49 671.90,91.39 672.00,91.29 672.10,91.20 672.20,91.11 672.40,90.93 672.99,90.46 673.58,90.04 674.17,89.68 674.76,89.35 675.35,89.06 675.94,88.80 676.53,88.57 677.12,88.35 677.71,88.16 678.30,87.98 678.89,87.81 679.48,87.66 680.07,87.52 680.66,87.39 681.25,87.27 681.84,87.15 682.43,87.05 683.02,86.95 683.61,86.85 684.20,86.77 684.79,86.68 685.38,86.61 685.97,86.53 686.56,86.46 687.15,86.40 687.74,86.33 688.33,86.27 688.92,86.21 689.51,86.16 690.09,86.11 690.68,86.06 691.27,86.01 691.86,85.96 692.45,85.92 693.04,85.88 693.63,85.84 694.22,85.80 694.81,85.76 695.40,85.73 695.99,85.69 696.58,85.66 697.17,85.63 697.76,85.60 698.35,85.57 698.94,85.54 699.53,85.51 700.12,85.48 700.71,85.46 701.30,85.43 701.89,85.41 702.48,85.38 703.07,85.36 703.66,85.34 704.25,85.32 704.84,85.30 705.43,85.28 706.02,85.26 706.61,85.24 707.20,85.22 708.20,85.19 722.47,84.87 736.74,84.67 751.01,84.54 765.28,84.45 779.54,84.38 793.81,84.32 808.08,84.28 822.35,84.24 836.62,84.21 850.89,84.18 865.16,84.16 879.43,84.14 893.70,84.13 907.97,84.11 922.23,84.10 936.50,84.09 950.77,84.08 965.04,84.07 979.31,84.06 993.58,84.05 1007.85,84.04 1022.12,84.04 1036.39,84.03 1050.66,84.02 1064.92,84.02 1079.19,84.01 1093.46,84.01 1107.73,84.00 1122.00,84.00" fill="none" stroke="#f3aa6e" stroke-width="1.95" stroke-linejoin="round"/>
<polyline points="667.20,315.30 667.30,315.08 667.40,314.05 667.50,311.87 667.60,308.29 667.70,303.17 667.80,296.42 667.90,288.03 668.00,278.07 668.10,266.67 668.20,254.04 668.30,240.42 668.40,226.10 668.50,211.41 668.60,196.67 668.70,182.20 668.80,168.28 668.90,155.17 669.00,143.06 669.10,132.10 669.20,122.37 669.30,113.91 669.40,106.68 669.50,100.62 669.60,95.65 669.70,91.63 669.80,88.44 669.90,85.95 670.00,84.04 670.10,82.60 670.20,81.51 670.30,80.70 670.40,80.09 670.50,79.63 670.60,79.28 670.70,79.01 670.80,78.78 670.90,78.60 671.00,78.43 671.10,78.28 671.20,78.14 671.30,78.02 671.40,77.89 671.50,77.77 671.60,77.66 671.70,77.55 671.80,77.44 671.90,77.33 672.00,77.23 672.10,77.13 672.20,77.03 672.40,76.85 672.99,76.34 673.58,75.90 674.17,75.52 674.76,75.17 675.35,74.86 675.94,74.59 676.53,74.34 677.12,74.11 677.71,73.90 678.30,73.71 678.89,73.53 679.48,73.37 680.07,73.22 680.66,73.08 681.25,72.96 681.84,72.83 682.43,72.72 683.02,72.62 683.61,72.52 684.20,72.42 684.79,72.34 685.38,72.25 685.97,72.17 686.56,72.10 687.15,72.03 687.74,71.96 688.33,71.90 688.92,71.84 689.51,71.78 690.09,71.72 690.68,71.67 691.27,71.62 691.86,71.57 692.45,71.52 693.04,71.48 693.63,71.44 694.22,71.40 694.81,71.36 695.40,71.32 695.99,71.28 696.58,71.25 697.17,71.21 697.76,71.18 698.35,71.15 698.94,71.12 699.53,71.09 700.12,71.06 700.71,71.03 701.30,71.01 701.89,70.98 702.48,70.95 703.07,70.93 703.66,70.91 704.25,70.88 704.84,70.86 705.43,70.84 706.02,70.82 706.61,70.80 707.20,70.78 708.20,70.75 720.66,70.44 733.12,70.24 745.58,70.10 758.03,70.00 770.49,69.93 782.95,69.87 795.41,69.82 807.87,69.78 820.33,69.74 832.79,69.71 845.24,69.69 857.70,69.67 870.16,69.65 882.62,69.63 895.08,69.61 907.54,69.60 920.00,69.59 932.46,69.58 944.91,69.57 957.37,69.56 969.83,69.55 982.29,69.54 994.75,69.53 1007.21,69.53 1019.67,69.52 1032.12,69.52 1044.58,69.51 1057.04,69.50 1069.50,69.50" fill="none" stroke="#22ee22" stroke-width="1.95" stroke-linejoin="round"/>
<polyline points="667.20,315.30 667.30,315.07 667.40,313.98 667.50,311.66 667.60,307.88 667.70,302.45 667.80,295.30 667.90,286.42 668.00,275.87 668.10,263.80 668.20,250.42 668.30,235.99 668.40,220.83 668.50,205.28 668.60,189.67 668.70,174.34 668.80,159.60 668.90,145.71 669.00,132.89 669.10,121.28 669.20,110.98 669.30,102.01 669.40,94.36 669.50,87.95 669.60,82.67 669.70,78.42 669.80,75.04 669.90,72.41 670.00,70.39 670.10,68.85 670.20,67.70 670.30,66.84 670.40,66.20 670.50,65.72 670.60,65.35 670.70,65.05 670.80,64.82 670.90,64.62 671.00,64.44 671.10,64.28 671.20,64.14 671.30,64.00 671.40,63.87 671.50,63.75 671.60,63.62 671.70,63.51 671.80,63.39 671.90,63.28 672.00,63.17 672.10,63.07 672.20,62.96 672.40,62.77 672.99,62.23 673.58,61.77 674.17,61.36 674.76,60.99 675.35,60.66 675.94,60.37 676.53,60.11 677.12,59.86 677.71,59.64 678.30,59.44 678.89,59.26 679.48,59.09 680.07,58.93 680.66,58.78 681.25,58.64 681.84,58.52 682.43,58.40 683.02,58.28 683.61,58.18 684.20,58.08 684.79,57.99 685.38,57.90 685.97,57.82 686.56,57.74 687.15,57.66 687.74,57.59 688.33,57.52 688.92,57.46 689.51,57.40 690.09,57.34 690.68,57.28 691.27,57.23 691.86,57.18 692.45,57.13 693.04,57.08 693.63,57.04 694.22,56.99 694.81,56.95 695.40,56.91 695.99,56.87 696.58,56.83 697.17,56.80 697.76,56.76 698.35,56.73 698.94,56.70 699.53,56.67 700.12,56.64 700.71,56.61 701.30,56.58 701.89,56.55 702.48,56.52 703.07,56.50 703.66,56.47 704.25,56.45 704.84,56.43 705.43,56.40 706.02,56.38 706.61,56.36 707.20,56.34 708.20,56.30 719.42,56.00 730.63,55.80 741.85,55.66 753.07,55.56 764.29,55.47 775.50,55.41 786.72,55.36 797.94,55.31 809.16,55.27 820.37,55.24 831.59,55.21 842.81,55.19 854.02,55.17 865.24,55.15 876.46,55.13 887.68,55.12 898.89,55.10 910.11,55.09 921.33,55.08 932.54,55.07 943.76,55.06 954.98,55.05 966.20,55.04 977.41,55.03 988.63,55.02 999.85,55.02 1011.07,55.01 1022.28,55.01 1033.50,55.00" fill="none" stroke="#0e5e1e" stroke-width="1.95" stroke-linejoin="round"/>
<polyline points="667.20,315.30 667.30,315.09 667.40,314.09 667.50,311.97 667.60,308.50 667.70,303.52 667.80,296.97 667.90,288.83 668.00,279.16 668.10,268.10 668.20,255.84 668.30,242.61 668.40,228.72 668.50,214.46 668.60,200.15 668.70,186.10 668.80,172.59 668.90,159.87 669.00,148.11 669.10,137.48 669.20,128.04 669.30,119.82 669.40,112.80 669.50,106.92 669.60,102.09 669.70,98.19 669.80,95.10 669.90,92.69 670.00,90.83 670.10,89.43 670.20,88.37 670.30,87.58 670.40,86.99 670.50,86.55 670.60,86.21 670.70,85.94 670.80,85.73 670.90,85.54 671.00,85.38 671.10,85.24 671.20,85.10 671.30,84.98 671.40,84.86 671.50,84.74 671.60,84.63 671.70,84.52 671.80,84.42 671.90,84.32 672.00,84.22 672.10,84.12 672.20,84.03 672.40,83.84 672.99,83.36 673.58,82.93 674.17,82.55 674.76,82.22 675.35,81.92 675.94,81.65 676.53,81.41 677.12,81.19 677.71,80.98 678.30,80.80 678.89,80.63 679.48,80.47 680.07,80.33 680.66,80.19 681.25,80.07 681.84,79.95 682.43,79.84 683.02,79.74 683.61,79.64 684.20,79.55 684.79,79.47 685.38,79.38 685.97,79.31 686.56,79.24 687.15,79.17 687.74,79.10 688.33,79.04 688.92,78.98 689.51,78.92 690.09,78.87 690.68,78.82 691.27,78.77 691.86,78.72 692.45,78.68 693.04,78.64 693.63,78.59 694.22,78.55 694.81,78.52 695.40,78.48 695.99,78.44 696.58,78.41 697.17,78.38 697.76,78.34 698.35,78.31 698.94,78.28 699.53,78.26 700.12,78.23 700.71,78.20 701.30,78.18 701.89,78.15 702.48,78.13 703.07,78.10 703.66,78.08 704.25,78.06 704.84,78.03 705.43,78.01 706.02,77.99 706.61,77.97 707.20,77.95 708.20,77.92 722.09,77.60 735.98,77.40 749.87,77.26 763.76,77.17 777.65,77.09 791.54,77.04 805.43,76.99 819.32,76.95 833.21,76.92 847.10,76.89 860.99,76.87 874.88,76.85 888.77,76.83 902.66,76.82 916.54,76.80 930.43,76.79 944.32,76.78 958.21,76.77 972.10,76.76 985.99,76.75 999.88,76.74 1013.77,76.74 1027.66,76.73 1041.55,76.72 1055.44,76.72 1069.33,76.71 1083.22,76.71 1097.11,76.70 1111.00,76.70" fill="none" stroke="#9c6a2e" stroke-width="1.95" stroke-linejoin="round"/>
<polyline points="667.20,315.30 667.30,315.07 667.40,314.00 667.50,311.73 667.60,308.00 667.70,302.67 667.80,295.65 667.90,286.92 668.00,276.55 668.10,264.69 668.20,251.54 668.30,237.37 668.40,222.47 668.50,207.18 668.60,191.84 668.70,176.78 668.80,162.29 668.90,148.65 669.00,136.05 669.10,124.64 669.20,114.52 669.30,105.71 669.40,98.19 669.50,91.88 669.60,86.70 669.70,82.52 669.80,79.20 669.90,76.62 670.00,74.63 670.10,73.12 670.20,71.99 670.30,71.15 670.40,70.51 670.50,70.04 670.60,69.67 670.70,69.39 670.80,69.16 670.90,68.96 671.00,68.79 671.10,68.63 671.20,68.49 671.30,68.35 671.40,68.23 671.50,68.10 671.60,67.98 671.70,67.87 671.80,67.76 671.90,67.65 672.00,67.54 672.10,67.44 672.20,67.33 672.40,67.14 672.99,66.62 673.58,66.16 674.17,65.75 674.76,65.40 675.35,65.07 675.94,64.79 676.53,64.53 677.12,64.29 677.71,64.07 678.30,63.87 678.89,63.69 679.48,63.52 680.07,63.37 680.66,63.22 681.25,63.09 681.84,62.96 682.43,62.85 683.02,62.74 683.61,62.63 684.20,62.54 684.79,62.44 685.38,62.36 685.97,62.28 686.56,62.20 687.15,62.12 687.74,62.05 688.33,61.99 688.92,61.92 689.51,61.86 690.09,61.81 690.68,61.75 691.27,61.70 691.86,61.65 692.45,61.60 693.04,61.55 693.63,61.51 694.22,61.47 694.81,61.43 695.40,61.39 695.99,61.35 696.58,61.31 697.17,61.28 697.76,61.24 698.35,61.21 698.94,61.18 699.53,61.15 700.12,61.12 700.71,61.09 701.30,61.06 701.89,61.03 702.48,61.01 703.07,60.98 703.66,60.96 704.25,60.93 704.84,60.91 705.43,60.89 706.02,60.87 706.61,60.84 707.20,60.82 708.20,60.79 720.09,60.48 731.98,60.28 743.87,60.14 755.76,60.03 767.65,59.95 779.54,59.89 791.43,59.84 803.32,59.80 815.21,59.76 827.10,59.73 838.99,59.70 850.88,59.68 862.77,59.66 874.66,59.64 886.54,59.62 898.43,59.61 910.32,59.60 922.21,59.58 934.10,59.57 945.99,59.56 957.88,59.55 969.77,59.54 981.66,59.54 993.55,59.53 1005.44,59.52 1017.33,59.52 1029.22,59.51 1041.11,59.51 1053.00,59.50" fill="none" stroke="#5a0a50" stroke-width="1.95" stroke-linejoin="round"/>
<polyline points="667.20,315.30 667.30,315.09 667.40,314.13 667.50,312.07 667.60,308.71 667.70,303.89 667.80,297.54 667.90,289.66 668.00,280.29 668.10,269.58 668.20,257.70 668.30,244.89 668.40,231.43 668.50,217.61 668.60,203.75 668.70,190.14 668.80,177.06 668.90,164.73 669.00,153.34 669.10,143.04 669.20,133.89 669.30,125.93 669.40,119.14 669.50,113.44 669.60,108.76 669.70,104.98 669.80,101.99 669.90,99.65 670.00,97.85 670.10,96.49 670.20,95.47 670.30,94.70 670.40,94.13 670.50,93.70 670.60,93.38 670.70,93.12 670.80,92.91 670.90,92.73 671.00,92.57 671.10,92.43 671.20,92.30 671.30,92.18 671.40,92.07 671.50,91.96 671.60,91.85 671.70,91.74 671.80,91.64 671.90,91.54 672.00,91.45 672.10,91.35 672.20,91.26 672.40,91.08 672.99,90.61 673.58,90.20 674.17,89.83 674.76,89.51 675.35,89.22 675.94,88.96 676.53,88.72 677.12,88.51 677.71,88.31 678.30,88.13 678.89,87.97 679.48,87.82 680.07,87.68 680.66,87.55 681.25,87.43 681.84,87.31 682.43,87.21 683.02,87.11 683.61,87.01 684.20,86.92 684.79,86.84 685.38,86.76 685.97,86.69 686.56,86.62 687.15,86.55 687.74,86.49 688.33,86.43 688.92,86.37 689.51,86.32 690.09,86.27 690.68,86.22 691.27,86.17 691.86,86.12 692.45,86.08 693.04,86.04 693.63,86.00 694.22,85.96 694.81,85.92 695.40,85.89 695.99,85.85 696.58,85.82 697.17,85.79 697.76,85.76 698.35,85.73 698.94,85.70 699.53,85.67 700.12,85.64 700.71,85.62 701.30,85.59 701.89,85.57 702.48,85.54 703.07,85.52 703.66,85.50 704.25,85.48 704.84,85.46 705.43,85.44 706.02,85.42 706.61,85.40 707.20,85.38 708.20,85.35 718.67,85.10 729.14,84.92 739.61,84.80 750.08,84.71 760.54,84.63 771.01,84.57 781.48,84.53 791.95,84.49 802.42,84.45 812.89,84.42 823.36,84.40 833.83,84.37 844.30,84.35 854.77,84.34 865.23,84.32 875.70,84.31 886.17,84.29 896.64,84.28 907.11,84.27 917.58,84.26 928.05,84.25 938.52,84.24 948.99,84.24 959.46,84.23 969.92,84.22 980.39,84.22 990.86,84.21 1001.33,84.21 1011.80,84.20" fill="none" stroke="#a81c1c" stroke-width="1.95" stroke-linejoin="round"/>
<polyline points="667.20,315.30 667.30,315.08 667.40,314.03 667.50,311.81 667.60,308.18 667.70,302.97 667.80,296.11 667.90,287.58 668.00,277.46 668.10,265.88 668.20,253.04 668.30,239.20 668.40,224.65 668.50,209.72 668.60,194.74 668.70,180.03 668.80,165.88 668.90,152.56 669.00,140.25 669.10,129.12 669.20,119.23 669.30,110.63 669.40,103.28 669.50,97.13 669.60,92.07 669.70,87.98 669.80,84.74 669.90,82.22 670.00,80.28 670.10,78.80 670.20,77.70 670.30,76.87 670.40,76.26 670.50,75.79 670.60,75.44 670.70,75.16 670.80,74.93 670.90,74.74 671.00,74.57 671.10,74.42 671.20,74.28 671.30,74.15 671.40,74.02 671.50,73.90 671.60,73.79 671.70,73.67 671.80,73.56 671.90,73.46 672.00,73.35 672.10,73.25 672.20,73.15 672.40,72.96 672.99,72.45 673.58,72.00 674.17,71.61 674.76,71.26 675.35,70.95 675.94,70.66 676.53,70.41 677.12,70.18 677.71,69.97 678.30,69.77 678.89,69.59 679.48,69.43 680.07,69.28 680.66,69.14 681.25,69.01 681.84,68.88 682.43,68.77 683.02,68.66 683.61,68.56 684.20,68.47 684.79,68.38 685.38,68.29 685.97,68.21 686.56,68.14 687.15,68.06 687.74,68.00 688.33,67.93 688.92,67.87 689.51,67.81 690.09,67.75 690.68,67.70 691.27,67.65 691.86,67.60 692.45,67.55 693.04,67.51 693.63,67.46 694.22,67.42 694.81,67.38 695.40,67.34 695.99,67.31 696.58,67.27 697.17,67.24 697.76,67.20 698.35,67.17 698.94,67.14 699.53,67.11 700.12,67.08 700.71,67.05 701.30,67.02 701.89,67.00 702.48,66.97 703.07,66.95 703.66,66.92 704.25,66.90 704.84,66.88 705.43,66.86 706.02,66.83 706.61,66.81 707.20,66.79 708.20,66.76 720.18,66.46 732.17,66.26 744.15,66.12 756.13,66.02 768.11,65.94 780.10,65.88 792.08,65.83 804.06,65.79 816.04,65.75 828.03,65.72 840.01,65.70 851.99,65.67 863.98,65.65 875.96,65.64 887.94,65.62 899.92,65.61 911.91,65.59 923.89,65.58 935.87,65.57 947.86,65.56 959.84,65.55 971.82,65.54 983.80,65.54 995.79,65.53 1007.77,65.52 1019.75,65.52 1031.73,65.51 1043.72,65.51 1055.70,65.50" fill="none" stroke="#111111" stroke-width="1.95" stroke-linejoin="round"/>
<polyline points="667.20,315.30 667.30,315.07 667.40,313.97 667.50,311.65 667.60,307.85 667.70,302.40 667.80,295.22 667.90,286.30 668.00,275.72 668.10,263.60 668.20,250.17 668.30,235.68 668.40,220.46 668.50,204.85 668.60,189.17 668.70,173.78 668.80,158.99 668.90,145.05 669.00,132.17 669.10,120.52 669.20,110.18 669.30,101.18 669.40,93.49 669.50,87.06 669.60,81.76 669.70,77.49 669.80,74.10 669.90,71.46 670.00,69.43 670.10,67.89 670.20,66.73 670.30,65.87 670.40,65.23 670.50,64.74 670.60,64.37 670.70,64.07 670.80,63.84 670.90,63.64 671.00,63.46 671.10,63.30 671.20,63.16 671.30,63.02 671.40,62.89 671.50,62.76 671.60,62.64 671.70,62.52 671.80,62.41 671.90,62.29 672.00,62.19 672.10,62.08 672.20,61.98 672.40,61.78 672.99,61.24 673.58,60.77 674.17,60.36 674.76,60.00 675.35,59.67 675.94,59.37 676.53,59.11 677.12,58.86 677.71,58.64 678.30,58.44 678.89,58.25 679.48,58.08 680.07,57.92 680.66,57.78 681.25,57.64 681.84,57.51 682.43,57.39 683.02,57.28 683.61,57.17 684.20,57.07 684.79,56.98 685.38,56.89 685.97,56.81 686.56,56.73 687.15,56.65 687.74,56.58 688.33,56.51 688.92,56.45 689.51,56.39 690.09,56.33 690.68,56.27 691.27,56.22 691.86,56.17 692.45,56.12 693.04,56.07 693.63,56.03 694.22,55.98 694.81,55.94 695.40,55.90 695.99,55.86 696.58,55.82 697.17,55.79 697.76,55.75 698.35,55.72 698.94,55.69 699.53,55.65 700.12,55.62 700.71,55.59 701.30,55.57 701.89,55.54 702.48,55.51 703.07,55.49 703.66,55.46 704.25,55.44 704.84,55.41 705.43,55.39 706.02,55.37 706.61,55.35 707.20,55.32 708.20,55.29 718.19,55.01 728.19,54.83 738.18,54.69 748.17,54.58 758.17,54.50 768.16,54.43 778.15,54.38 788.14,54.33 798.14,54.29 808.13,54.26 818.12,54.23 828.12,54.20 838.11,54.18 848.10,54.16 858.10,54.14 868.09,54.12 878.08,54.11 888.08,54.10 898.07,54.08 908.06,54.07 918.06,54.06 928.05,54.05 938.04,54.04 948.03,54.03 958.03,54.03 968.02,54.02 978.01,54.01 988.01,54.01 998.00,54.00" fill="none" stroke="#10108c" stroke-width="1.95" stroke-linejoin="round"/>
<polyline points="667.20,315.30 667.30,315.08 667.40,314.05 667.50,311.86 667.60,308.27 667.70,303.14 667.80,296.37 667.90,287.97 668.00,277.99 668.10,266.57 668.20,253.91 668.30,240.25 668.40,225.91 668.50,211.18 668.60,196.41 668.70,181.91 668.80,167.96 668.90,154.82 669.00,142.68 669.10,131.70 669.20,121.95 669.30,113.47 669.40,106.22 669.50,100.16 669.60,95.17 669.70,91.14 669.80,87.95 669.90,85.45 670.00,83.54 670.10,82.09 670.20,81.00 670.30,80.19 670.40,79.58 670.50,79.12 670.60,78.77 670.70,78.49 670.80,78.27 670.90,78.08 671.00,77.91 671.10,77.77 671.20,77.63 671.30,77.50 671.40,77.37 671.50,77.26 671.60,77.14 671.70,77.03 671.80,76.92 671.90,76.82 672.00,76.71 672.10,76.61 672.20,76.51 672.40,76.33 672.99,75.82 673.58,75.38 674.17,74.99 674.76,74.65 675.35,74.34 675.94,74.06 676.53,73.81 677.12,73.58 677.71,73.37 678.30,73.18 678.89,73.01 679.48,72.85 680.07,72.70 680.66,72.56 681.25,72.43 681.84,72.31 682.43,72.19 683.02,72.09 683.61,71.99 684.20,71.89 684.79,71.81 685.38,71.72 685.97,71.64 686.56,71.57 687.15,71.50 687.74,71.43 688.33,71.37 688.92,71.31 689.51,71.25 690.09,71.19 690.68,71.14 691.27,71.09 691.86,71.04 692.45,70.99 693.04,70.95 693.63,70.91 694.22,70.86 694.81,70.83 695.40,70.79 695.99,70.75 696.58,70.72 697.17,70.68 697.76,70.65 698.35,70.62 698.94,70.59 699.53,70.56 700.12,70.53 700.71,70.50 701.30,70.47 701.89,70.45 702.48,70.42 703.07,70.40 703.66,70.37 704.25,70.35 704.84,70.33 705.43,70.31 706.02,70.29 706.61,70.27 707.20,70.25 708.20,70.21 718.00,69.96 727.80,69.78 737.60,69.65 747.40,69.55 757.20,69.47 767.00,69.41 776.80,69.36 786.60,69.32 796.40,69.28 806.20,69.25 816.00,69.22 825.80,69.19 835.60,69.17 845.40,69.15 855.20,69.13 865.00,69.12 874.80,69.10 884.60,69.09 894.40,69.08 904.20,69.07 914.00,69.06 923.80,69.05 933.60,69.04 943.40,69.03 953.20,69.03 963.00,69.02 972.80,69.01 982.60,69.01 992.40,69.00" fill="none" stroke="#ff8a1e" stroke-width="1.95" stroke-linejoin="round"/>
<polyline points="667.20,315.30 667.30,315.10 667.40,314.19 667.50,312.25 667.60,309.07 667.70,304.52 667.80,298.53 667.90,291.08 668.00,282.23 668.10,272.11 668.20,260.88 668.30,248.78 668.40,236.07 668.50,223.02 668.60,209.93 668.70,197.07 668.80,184.71 668.90,173.06 669.00,162.31 669.10,152.57 669.20,143.93 669.30,136.41 669.40,129.99 669.50,124.61 669.60,120.19 669.70,116.62 669.80,113.79 669.90,111.58 670.00,109.88 670.10,108.60 670.20,107.63 670.30,106.91 670.40,106.37 670.50,105.97 670.60,105.66 670.70,105.41 670.80,105.21 670.90,105.04 671.00,104.90 671.10,104.77 671.20,104.64 671.30,104.53 671.40,104.42 671.50,104.31 671.60,104.21 671.70,104.11 671.80,104.02 671.90,103.92 672.00,103.83 672.10,103.74 672.20,103.66 672.40,103.49 672.99,103.04 673.58,102.65 674.17,102.31 674.76,102.00 675.35,101.73 675.94,101.48 676.53,101.26 677.12,101.06 677.71,100.87 678.30,100.70 678.89,100.55 679.48,100.41 680.07,100.27 680.66,100.15 681.25,100.03 681.84,99.93 682.43,99.83 683.02,99.73 683.61,99.64 684.20,99.56 684.79,99.48 685.38,99.41 685.97,99.34 686.56,99.27 687.15,99.21 687.74,99.15 688.33,99.09 688.92,99.04 689.51,98.99 690.09,98.94 690.68,98.89 691.27,98.85 691.86,98.80 692.45,98.76 693.04,98.72 693.63,98.69 694.22,98.65 694.81,98.61 695.40,98.58 695.99,98.55 696.58,98.52 697.17,98.49 697.76,98.46 698.35,98.43 698.94,98.40 699.53,98.38 700.12,98.35 700.71,98.33 701.30,98.30 701.89,98.28 702.48,98.26 703.07,98.24 703.66,98.21 704.25,98.19 704.84,98.17 705.43,98.16 706.02,98.14 706.61,98.12 707.20,98.10 708.20,98.07 717.80,97.85 727.41,97.69 737.01,97.58 746.61,97.49 756.22,97.42 765.82,97.37 775.42,97.32 785.03,97.28 794.63,97.25 804.23,97.22 813.84,97.20 823.44,97.17 833.04,97.15 842.65,97.14 852.25,97.12 861.86,97.11 871.46,97.09 881.06,97.08 890.67,97.07 900.27,97.06 909.87,97.05 919.48,97.04 929.08,97.04 938.68,97.03 948.29,97.02 957.89,97.02 967.49,97.01 977.10,97.01 986.70,97.00" fill="none" stroke="#a41ee6" stroke-width="1.95" stroke-linejoin="round"/>
<polyline points="667.20,315.30 667.30,315.07 667.40,313.99 667.50,311.70 667.60,307.96 667.70,302.60 667.80,295.53 667.90,286.75 668.00,276.33 668.10,264.40 668.20,251.17 668.30,236.91 668.40,221.92 668.50,206.55 668.60,191.11 668.70,175.96 668.80,161.39 668.90,147.67 669.00,134.99 669.10,123.52 669.20,113.34 669.30,104.48 669.40,96.91 669.50,90.57 669.60,85.36 669.70,81.15 669.80,77.82 669.90,75.21 670.00,73.21 670.10,71.70 670.20,70.56 670.30,69.71 670.40,69.07 670.50,68.60 670.60,68.23 670.70,67.94 670.80,67.71 670.90,67.51 671.00,67.34 671.10,67.18 671.20,67.04 671.30,66.90 671.40,66.77 671.50,66.65 671.60,66.53 671.70,66.41 671.80,66.30 671.90,66.19 672.00,66.08 672.10,65.98 672.20,65.88 672.40,65.68 672.99,65.15 673.58,64.69 674.17,64.29 674.76,63.93 675.35,63.60 675.94,63.31 676.53,63.05 677.12,62.81 677.71,62.59 678.30,62.40 678.89,62.21 679.48,62.04 680.07,61.89 680.66,61.74 681.25,61.61 681.84,61.48 682.43,61.36 683.02,61.25 683.61,61.15 684.20,61.05 684.79,60.96 685.38,60.87 685.97,60.79 686.56,60.71 687.15,60.63 687.74,60.56 688.33,60.50 688.92,60.43 689.51,60.37 690.09,60.32 690.68,60.26 691.27,60.21 691.86,60.16 692.45,60.11 693.04,60.06 693.63,60.02 694.22,59.97 694.81,59.93 695.40,59.89 695.99,59.85 696.58,59.82 697.17,59.78 697.76,59.75 698.35,59.71 698.94,59.68 699.53,59.65 700.12,59.62 700.71,59.59 701.30,59.56 701.89,59.54 702.48,59.51 703.07,59.49 703.66,59.46 704.25,59.44 704.84,59.41 705.43,59.39 706.02,59.37 706.61,59.35 707.20,59.33 708.20,59.29 719.70,58.99 731.21,58.79 742.71,58.65 754.21,58.54 765.72,58.46 777.22,58.40 788.72,58.35 800.23,58.30 811.73,58.27 823.23,58.23 834.74,58.21 846.24,58.18 857.74,58.16 869.25,58.14 880.75,58.13 892.26,58.11 903.76,58.10 915.26,58.09 926.77,58.07 938.27,58.06 949.77,58.05 961.28,58.05 972.78,58.04 984.28,58.03 995.79,58.02 1007.29,58.02 1018.79,58.01 1030.30,58.01 1041.80,58.00" fill="none" stroke="#1fb41f" stroke-width="1.95" stroke-linejoin="round"/>
<polyline points="667.20,315.30 667.30,315.09 667.40,314.09 667.50,311.96 667.60,308.48 667.70,303.50 667.80,296.94 667.90,288.78 668.00,279.10 668.10,268.02 668.20,255.73 668.30,242.49 668.40,228.57 668.50,214.28 668.60,199.95 668.70,185.87 668.80,172.34 668.90,159.59 669.00,147.82 669.10,137.16 669.20,127.70 669.30,119.47 669.40,112.44 669.50,106.55 669.60,101.71 669.70,97.81 669.80,94.71 669.90,92.29 670.00,90.43 670.10,89.03 670.20,87.97 670.30,87.18 670.40,86.59 670.50,86.14 670.60,85.80 670.70,85.54 670.80,85.32 670.90,85.13 671.00,84.97 671.10,84.83 671.20,84.70 671.30,84.57 671.40,84.45 671.50,84.33 671.60,84.22 671.70,84.12 671.80,84.01 671.90,83.91 672.00,83.81 672.10,83.71 672.20,83.62 672.40,83.43 672.99,82.95 673.58,82.52 674.17,82.14 674.76,81.81 675.35,81.51 675.94,81.24 676.53,80.99 677.12,80.77 677.71,80.57 678.30,80.38 678.89,80.21 679.48,80.06 680.07,79.91 680.66,79.78 681.25,79.65 681.84,79.53 682.43,79.42 683.02,79.32 683.61,79.22 684.20,79.13 684.79,79.05 685.38,78.97 685.97,78.89 686.56,78.82 687.15,78.75 687.74,78.68 688.33,78.62 688.92,78.56 689.51,78.51 690.09,78.45 690.68,78.40 691.27,78.35 691.86,78.30 692.45,78.26 693.04,78.22 693.63,78.17 694.22,78.13 694.81,78.10 695.40,78.06 695.99,78.02 696.58,77.99 697.17,77.96 697.76,77.92 698.35,77.89 698.94,77.86 699.53,77.84 700.12,77.81 700.71,77.78 701.30,77.75 701.89,77.73 702.48,77.70 703.07,77.68 703.66,77.66 704.25,77.64 704.84,77.61 705.43,77.59 706.02,77.57 706.61,77.55 707.20,77.53 708.20,77.50 719.81,77.22 731.41,77.03 743.02,76.90 754.63,76.80 766.23,76.73 777.84,76.67 789.45,76.62 801.06,76.58 812.66,76.55 824.27,76.52 835.88,76.49 847.48,76.47 859.09,76.45 870.70,76.43 882.30,76.42 893.91,76.40 905.52,76.39 917.12,76.38 928.73,76.37 940.34,76.36 951.94,76.35 963.55,76.34 975.16,76.34 986.77,76.33 998.37,76.32 1009.98,76.32 1021.59,76.31 1033.19,76.30 1044.80,76.30" fill="none" stroke="#ff1e1e" stroke-width="1.95" stroke-linejoin="round"/>
<polyline points="667.20,315.30 667.30,315.12 667.40,314.26 667.50,312.45 667.60,309.47 667.70,305.21 667.80,299.60 667.90,292.63 668.00,284.35 668.10,274.88 668.20,264.37 668.30,253.05 668.40,241.15 668.50,228.94 668.60,216.68 668.70,204.65 668.80,193.08 668.90,182.18 669.00,172.11 669.10,163.00 669.20,154.92 669.30,147.88 669.40,141.87 669.50,136.84 669.60,132.70 669.70,129.36 669.80,126.71 669.90,124.64 670.00,123.05 670.10,121.85 670.20,120.95 670.30,120.27 670.40,119.77 670.50,119.39 670.60,119.09 670.70,118.87 670.80,118.68 670.90,118.52 671.00,118.39 671.10,118.26 671.20,118.15 671.30,118.04 671.40,117.94 671.50,117.84 671.60,117.74 671.70,117.65 671.80,117.56 671.90,117.47 672.00,117.39 672.10,117.31 672.20,117.23 672.40,117.07 672.99,116.65 673.58,116.29 674.17,115.96 674.76,115.68 675.35,115.42 675.94,115.19 676.53,114.98 677.12,114.79 677.71,114.62 678.30,114.46 678.89,114.32 679.48,114.18 680.07,114.06 680.66,113.94 681.25,113.83 681.84,113.73 682.43,113.64 683.02,113.55 683.61,113.47 684.20,113.39 684.79,113.32 685.38,113.25 685.97,113.18 686.56,113.12 687.15,113.06 687.74,113.01 688.33,112.95 688.92,112.90 689.51,112.86 690.09,112.81 690.68,112.77 691.27,112.72 691.86,112.68 692.45,112.65 693.04,112.61 693.63,112.57 694.22,112.54 694.81,112.51 695.40,112.47 695.99,112.44 696.58,112.41 697.17,112.39 697.76,112.36 698.35,112.33 698.94,112.31 699.53,112.28 700.12,112.26 700.71,112.24 701.30,112.21 701.89,112.19 702.48,112.17 703.07,112.15 703.66,112.13 704.25,112.11 704.84,112.09 705.43,112.08 706.02,112.06 706.61,112.04 707.20,112.02 708.20,112.00 717.43,111.80 726.67,111.65 735.90,111.55 745.14,111.47 754.37,111.40 763.61,111.35 772.84,111.31 782.08,111.27 791.31,111.24 800.54,111.21 809.78,111.19 819.01,111.17 828.25,111.15 837.48,111.13 846.72,111.12 855.95,111.10 865.19,111.09 874.42,111.08 883.66,111.07 892.89,111.06 902.12,111.05 911.36,111.04 920.59,111.04 929.83,111.03 939.06,111.02 948.30,111.02 957.53,111.01 966.77,111.01 976.00,111.00" fill="none" stroke="#1e1eff" stroke-width="1.95" stroke-linejoin="round"/>
<text x="894.60" y="13.00" font-family="Liberation Sans" font-size="17.6" font-weight="bold" text-anchor="middle" fill="#000" >Rarefaction curves</text>
<text transform="translate(641.2,161.6) rotate(-90)" font-family="Liberation Sans" font-size="15" font-weight="bold" text-anchor="middle">Shannon index on OTU level</text>
<text transform="translate(613.00,19.70) scale(0.937,1)" font-family="Liberation Serif" font-size="28.81">B</text>
<line x1="902.60" y1="187.80" x2="922.00" y2="187.80" stroke="#1e1eff" stroke-width="2.2" />
<text x="933.40" y="192.10" font-family="Liberation Sans" font-size="12" text-anchor="start" fill="#1a1a1a" >C01</text>
<line x1="902.60" y1="212.60" x2="922.00" y2="212.60" stroke="#ff1e1e" stroke-width="2.2" />
<text x="933.40" y="216.90" font-family="Liberation Sans" font-size="12" text-anchor="start" fill="#1a1a1a" >C02</text>
<line x1="902.60" y1="237.40" x2="922.00" y2="237.40" stroke="#1fb41f" stroke-width="2.2" />
<text x="933.40" y="241.70" font-family="Liberation Sans" font-size="12" text-anchor="start" fill="#1a1a1a" >C03</text>
<line x1="902.60" y1="262.20" x2="922.00" y2="262.20" stroke="#a41ee6" stroke-width="2.2" />
<text x="933.40" y="266.50" font-family="Liberation Sans" font-size="12" text-anchor="start" fill="#1a1a1a" >C04</text>
<line x1="902.60" y1="287.00" x2="922.00" y2="287.00" stroke="#ff8a1e" stroke-width="2.2" />
<text x="933.40" y="291.30" font-family="Liberation Sans" font-size="12" text-anchor="start" fill="#1a1a1a" >C05</text>
<line x1="969.10" y1="187.80" x2="988.50" y2="187.80" stroke="#111111" stroke-width="2.2" />
<text x="999.90" y="192.10" font-family="Liberation Sans" font-size="12" text-anchor="start" fill="#1a1a1a" >D01</text>
<line x1="969.10" y1="212.60" x2="988.50" y2="212.60" stroke="#9c6a2e" stroke-width="2.2" />
<text x="999.90" y="216.90" font-family="Liberation Sans" font-size="12" text-anchor="start" fill="#1a1a1a" >D02</text>
<line x1="969.10" y1="237.40" x2="988.50" y2="237.40" stroke="#10108c" stroke-width="2.2" />
<text x="999.90" y="241.70" font-family="Liberation Sans" font-size="12" text-anchor="start" fill="#1a1a1a" >D03</text>
<line x1="969.10" y1="262.20" x2="988.50" y2="262.20" stroke="#5a0a50" stroke-width="2.2" />
<text x="999.90" y="266.50" font-family="Liberation Sans" font-size="12" text-anchor="start" fill="#1a1a1a" >D04</text>
<line x1="969.10" y1="287.00" x2="988.50" y2="287.00" stroke="#a81c1c" stroke-width="2.2" />
<text x="999.90" y="291.30" font-family="Liberation Sans" font-size="12" text-anchor="start" fill="#1a1a1a" >D05</text>
<line x1="1037.00" y1="187.80" x2="1056.60" y2="187.80" stroke="#0e5e1e" stroke-width="2.2" />
<text x="1068.00" y="192.10" font-family="Liberation Sans" font-size="12" text-anchor="start" fill="#1a1a1a" >B01</text>
<line x1="1037.00" y1="212.60" x2="1056.60" y2="212.60" stroke="#f3aa6e" stroke-width="2.2" />
<text x="1068.00" y="216.90" font-family="Liberation Sans" font-size="12" text-anchor="start" fill="#1a1a1a" >B02</text>
<line x1="1037.00" y1="237.40" x2="1056.60" y2="237.40" stroke="#22ee22" stroke-width="2.2" />
<text x="1068.00" y="241.70" font-family="Liberation Sans" font-size="12" text-anchor="start" fill="#1a1a1a" >B03</text>
<line x1="1037.00" y1="262.20" x2="1056.60" y2="262.20" stroke="#88bbf5" stroke-width="2.2" />
<text x="1068.00" y="266.50" font-family="Liberation Sans" font-size="12" text-anchor="start" fill="#1a1a1a" >B04</text>
<line x1="1037.00" y1="287.00" x2="1056.60" y2="287.00" stroke="#bbbbff" stroke-width="2.2" />
<text x="1068.00" y="291.30" font-family="Liberation Sans" font-size="12" text-anchor="start" fill="#1a1a1a" >B05</text>
<line x1="58.70" y1="397.00" x2="58.70" y2="566.80" stroke="#000" stroke-width="1.9" />
<line x1="58.70" y1="565.90" x2="311.90" y2="565.90" stroke="#000" stroke-width="1.9" />
<line x1="51.90" y1="397.90" x2="58.70" y2="397.90" stroke="#000" stroke-width="1.9" />
<text x="49.60" y="402.40" font-family="Liberation Sans" font-size="12.7" font-weight="bold" text-anchor="end" fill="#000" >450</text>
<line x1="51.90" y1="439.90" x2="58.70" y2="439.90" stroke="#000" stroke-width="1.9" />
<text x="49.60" y="444.40" font-family="Liberation Sans" font-size="12.7" font-weight="bold" text-anchor="end" fill="#000" >400</text>
<line x1="51.90" y1="481.90" x2="58.70" y2="481.90" stroke="#000" stroke-width="1.9" />
<text x="49.60" y="486.40" font-family="Liberation Sans" font-size="12.7" font-weight="bold" text-anchor="end" fill="#000" >350</text>
<line x1="51.90" y1="523.90" x2="58.70" y2="523.90" stroke="#000" stroke-width="1.9" />
<text x="49.60" y="528.40" font-family="Liberation Sans" font-size="12.7" font-weight="bold" text-anchor="end" fill="#000" >300</text>
<line x1="51.90" y1="565.90" x2="58.70" y2="565.90" stroke="#000" stroke-width="1.9" />
<text x="49.60" y="570.40" font-family="Liberation Sans" font-size="12.7" font-weight="bold" text-anchor="end" fill="#000" >250</text>
<line x1="109.20" y1="565.90" x2="109.20" y2="573.10" stroke="#000" stroke-width="1.9" />
<text x="109.20" y="587.30" font-family="Liberation Sans" font-size="12.5" font-weight="bold" text-anchor="middle" fill="#000" >Control</text>
<line x1="185.00" y1="565.90" x2="185.00" y2="573.10" stroke="#000" stroke-width="1.9" />
<text x="185.00" y="587.30" font-family="Liberation Sans" font-size="12.5" font-weight="bold" text-anchor="middle" fill="#000" >T1D</text>
<line x1="260.60" y1="565.90" x2="260.60" y2="573.10" stroke="#000" stroke-width="1.9" />
<text x="260.60" y="587.30" font-family="Liberation Sans" font-size="12.5" font-weight="bold" text-anchor="middle" fill="#000" >T1D+NaB</text>
<line x1="109.35" y1="466.40" x2="109.35" y2="471.60" stroke="#000" stroke-width="2.45" />
<line x1="109.35" y1="485.00" x2="109.35" y2="487.10" stroke="#000" stroke-width="2.45" />
<line x1="97.00" y1="466.40" x2="121.75" y2="466.40" stroke="#000" stroke-width="2.45" />
<line x1="97.00" y1="487.10" x2="121.75" y2="487.10" stroke="#000" stroke-width="2.45" />
<rect x="85.12" y="471.60" width="48.45" height="13.40" fill="#a2a1a7" stroke="#000" stroke-width="2.45"/>
<line x1="85.12" y1="483.60" x2="133.58" y2="483.60" stroke="#000" stroke-width="2.45" />
<line x1="184.90" y1="434.60" x2="184.90" y2="435.80" stroke="#000" stroke-width="2.45" />
<line x1="184.90" y1="464.00" x2="184.90" y2="467.50" stroke="#000" stroke-width="2.45" />
<line x1="172.50" y1="434.60" x2="197.50" y2="434.60" stroke="#000" stroke-width="2.45" />
<line x1="172.50" y1="467.50" x2="197.50" y2="467.50" stroke="#000" stroke-width="2.45" />
<rect x="161.12" y="435.80" width="47.55" height="28.20" fill="#fe7f7f" stroke="#000" stroke-width="2.45"/>
<line x1="161.12" y1="440.40" x2="208.68" y2="440.40" stroke="#000" stroke-width="2.45" />
<line x1="260.62" y1="405.40" x2="260.62" y2="420.20" stroke="#000" stroke-width="2.45" />
<line x1="260.62" y1="490.80" x2="260.62" y2="527.10" stroke="#000" stroke-width="2.45" />
<line x1="248.00" y1="405.40" x2="273.00" y2="405.40" stroke="#000" stroke-width="2.45" />
<line x1="248.00" y1="527.10" x2="273.00" y2="527.10" stroke="#000" stroke-width="2.45" />
<rect x="236.97" y="420.20" width="47.30" height="70.60" fill="#8180fd" stroke="#000" stroke-width="2.45"/>
<line x1="236.97" y1="451.25" x2="284.27" y2="451.25" stroke="#000" stroke-width="2.45" />
<line x1="109.20" y1="419.00" x2="185.00" y2="419.00" stroke="#000" stroke-width="1.7" />
<line x1="146.30" y1="406.75" x2="146.30" y2="411.85" stroke="#000" stroke-width="1.45" stroke-linecap="round"/>
<line x1="144.09" y1="408.03" x2="148.51" y2="410.57" stroke="#000" stroke-width="1.45" stroke-linecap="round"/>
<line x1="144.09" y1="410.57" x2="148.51" y2="408.03" stroke="#000" stroke-width="1.45" stroke-linecap="round"/>
<text transform="translate(21.20,482.20) rotate(-90)" font-family="Liberation Sans" font-size="13.5" font-weight="bold" text-anchor="middle">Ace</text>
<line x1="374.30" y1="397.20" x2="374.30" y2="567.00" stroke="#000" stroke-width="1.9" />
<line x1="374.30" y1="566.10" x2="626.80" y2="566.10" stroke="#000" stroke-width="1.9" />
<line x1="367.50" y1="398.10" x2="374.30" y2="398.10" stroke="#000" stroke-width="1.9" />
<text x="365.60" y="402.60" font-family="Liberation Sans" font-size="12.7" font-weight="bold" text-anchor="end" fill="#000" >500</text>
<line x1="367.50" y1="431.70" x2="374.30" y2="431.70" stroke="#000" stroke-width="1.9" />
<text x="365.60" y="436.20" font-family="Liberation Sans" font-size="12.7" font-weight="bold" text-anchor="end" fill="#000" >450</text>
<line x1="367.50" y1="465.30" x2="374.30" y2="465.30" stroke="#000" stroke-width="1.9" />
<text x="365.60" y="469.80" font-family="Liberation Sans" font-size="12.7" font-weight="bold" text-anchor="end" fill="#000" >400</text>
<line x1="367.50" y1="498.90" x2="374.30" y2="498.90" stroke="#000" stroke-width="1.9" />
<text x="365.60" y="503.40" font-family="Liberation Sans" font-size="12.7" font-weight="bold" text-anchor="end" fill="#000" >350</text>
<line x1="367.50" y1="532.50" x2="374.30" y2="532.50" stroke="#000" stroke-width="1.9" />
<text x="365.60" y="537.00" font-family="Liberation Sans" font-size="12.7" font-weight="bold" text-anchor="end" fill="#000" >300</text>
<line x1="367.50" y1="566.10" x2="374.30" y2="566.10" stroke="#000" stroke-width="1.9" />
<text x="365.60" y="570.60" font-family="Liberation Sans" font-size="12.7" font-weight="bold" text-anchor="end" fill="#000" >250</text>
<line x1="424.80" y1="566.10" x2="424.80" y2="573.30" stroke="#000" stroke-width="1.9" />
<text x="424.80" y="587.50" font-family="Liberation Sans" font-size="12.5" font-weight="bold" text-anchor="middle" fill="#000" >Control</text>
<line x1="500.20" y1="566.10" x2="500.20" y2="573.30" stroke="#000" stroke-width="1.9" />
<text x="500.20" y="587.50" font-family="Liberation Sans" font-size="12.5" font-weight="bold" text-anchor="middle" fill="#000" >T1D</text>
<line x1="575.80" y1="566.10" x2="575.80" y2="573.30" stroke="#000" stroke-width="1.9" />
<text x="575.80" y="587.50" font-family="Liberation Sans" font-size="12.5" font-weight="bold" text-anchor="middle" fill="#000" >T1D+NaB</text>
<line x1="424.90" y1="488.20" x2="424.90" y2="488.20" stroke="#000" stroke-width="2.45" />
<line x1="424.90" y1="500.00" x2="424.90" y2="502.30" stroke="#000" stroke-width="2.45" />
<line x1="412.30" y1="488.20" x2="437.70" y2="488.20" stroke="#000" stroke-width="2.45" />
<line x1="412.30" y1="502.30" x2="437.70" y2="502.30" stroke="#000" stroke-width="2.45" />
<rect x="400.73" y="488.20" width="48.35" height="11.80" fill="#a2a1a7" stroke="#000" stroke-width="2.45"/>
<line x1="400.73" y1="496.00" x2="449.07" y2="496.00" stroke="#000" stroke-width="2.45" />
<line x1="500.43" y1="451.25" x2="500.43" y2="458.75" stroke="#000" stroke-width="2.45" />
<line x1="500.43" y1="482.00" x2="500.43" y2="482.00" stroke="#000" stroke-width="2.45" />
<line x1="488.00" y1="451.25" x2="512.30" y2="451.25" stroke="#000" stroke-width="2.45" />
<line x1="488.00" y1="482.00" x2="512.30" y2="482.00" stroke="#000" stroke-width="2.45" />
<rect x="476.98" y="458.75" width="46.90" height="23.25" fill="#fe7f7f" stroke="#000" stroke-width="2.45"/>
<line x1="476.98" y1="468.00" x2="523.88" y2="468.00" stroke="#000" stroke-width="2.45" />
<line x1="576.05" y1="426.25" x2="576.05" y2="446.25" stroke="#000" stroke-width="2.45" />
<line x1="576.05" y1="506.25" x2="576.05" y2="539.40" stroke="#000" stroke-width="2.45" />
<line x1="563.75" y1="426.25" x2="588.30" y2="426.25" stroke="#000" stroke-width="2.45" />
<line x1="563.75" y1="539.40" x2="588.30" y2="539.40" stroke="#000" stroke-width="2.45" />
<rect x="552.62" y="446.25" width="46.85" height="60.00" fill="#8180fd" stroke="#000" stroke-width="2.45"/>
<line x1="552.62" y1="475.20" x2="599.48" y2="475.20" stroke="#000" stroke-width="2.45" />
<line x1="426.25" y1="430.60" x2="500.20" y2="430.60" stroke="#000" stroke-width="1.7" />
<line x1="462.30" y1="419.15" x2="462.30" y2="424.25" stroke="#000" stroke-width="1.45" stroke-linecap="round"/>
<line x1="460.09" y1="420.43" x2="464.51" y2="422.97" stroke="#000" stroke-width="1.45" stroke-linecap="round"/>
<line x1="460.09" y1="422.97" x2="464.51" y2="420.43" stroke="#000" stroke-width="1.45" stroke-linecap="round"/>
<text transform="translate(336.80,481.50) rotate(-90)" font-family="Liberation Sans" font-size="13.5" font-weight="bold" text-anchor="middle">Chao</text>
<line x1="55.70" y1="640.30" x2="55.70" y2="810.90" stroke="#000" stroke-width="1.9" />
<line x1="55.70" y1="810.00" x2="308.50" y2="810.00" stroke="#000" stroke-width="1.9" />
<line x1="48.90" y1="641.20" x2="55.70" y2="641.20" stroke="#000" stroke-width="1.9" />
<text x="46.80" y="645.70" font-family="Liberation Sans" font-size="12.7" font-weight="bold" text-anchor="end" fill="#000" >80</text>
<line x1="48.90" y1="683.40" x2="55.70" y2="683.40" stroke="#000" stroke-width="1.9" />
<text x="46.80" y="687.90" font-family="Liberation Sans" font-size="12.7" font-weight="bold" text-anchor="end" fill="#000" >70</text>
<line x1="48.90" y1="725.60" x2="55.70" y2="725.60" stroke="#000" stroke-width="1.9" />
<text x="46.80" y="730.10" font-family="Liberation Sans" font-size="12.7" font-weight="bold" text-anchor="end" fill="#000" >60</text>
<line x1="48.90" y1="767.80" x2="55.70" y2="767.80" stroke="#000" stroke-width="1.9" />
<text x="46.80" y="772.30" font-family="Liberation Sans" font-size="12.7" font-weight="bold" text-anchor="end" fill="#000" >50</text>
<line x1="48.90" y1="810.00" x2="55.70" y2="810.00" stroke="#000" stroke-width="1.9" />
<text x="46.80" y="814.50" font-family="Liberation Sans" font-size="12.7" font-weight="bold" text-anchor="end" fill="#000" >40</text>
<line x1="106.30" y1="810.00" x2="106.30" y2="817.20" stroke="#000" stroke-width="1.9" />
<text x="106.30" y="830.00" font-family="Liberation Sans" font-size="12.5" font-weight="bold" text-anchor="middle" fill="#000" >Control</text>
<line x1="181.50" y1="810.00" x2="181.50" y2="817.20" stroke="#000" stroke-width="1.9" />
<text x="181.50" y="830.00" font-family="Liberation Sans" font-size="12.5" font-weight="bold" text-anchor="middle" fill="#000" >T1D</text>
<line x1="257.40" y1="810.00" x2="257.40" y2="817.20" stroke="#000" stroke-width="1.9" />
<text x="257.40" y="830.00" font-family="Liberation Sans" font-size="12.5" font-weight="bold" text-anchor="middle" fill="#000" >T1D+NaB</text>
<line x1="106.60" y1="741.80" x2="106.60" y2="751.50" stroke="#000" stroke-width="2.45" />
<line x1="106.60" y1="769.50" x2="106.60" y2="776.00" stroke="#000" stroke-width="2.45" />
<line x1="94.40" y1="741.80" x2="118.70" y2="741.80" stroke="#000" stroke-width="2.45" />
<line x1="94.40" y1="776.00" x2="118.70" y2="776.00" stroke="#000" stroke-width="2.45" />
<rect x="82.62" y="751.50" width="47.95" height="18.00" fill="#a2a1a7" stroke="#000" stroke-width="2.45"/>
<line x1="82.62" y1="760.40" x2="130.58" y2="760.40" stroke="#000" stroke-width="2.45" />
<line x1="181.85" y1="700.80" x2="181.85" y2="712.70" stroke="#000" stroke-width="2.45" />
<line x1="181.85" y1="744.00" x2="181.85" y2="755.90" stroke="#000" stroke-width="2.45" />
<line x1="169.60" y1="700.80" x2="193.70" y2="700.80" stroke="#000" stroke-width="2.45" />
<line x1="169.60" y1="755.90" x2="193.70" y2="755.90" stroke="#000" stroke-width="2.45" />
<rect x="158.42" y="712.70" width="46.85" height="31.30" fill="#fe7f7f" stroke="#000" stroke-width="2.45"/>
<line x1="158.42" y1="725.10" x2="205.28" y2="725.10" stroke="#000" stroke-width="2.45" />
<line x1="257.70" y1="669.80" x2="257.70" y2="698.70" stroke="#000" stroke-width="2.45" />
<line x1="257.70" y1="767.30" x2="257.70" y2="788.60" stroke="#000" stroke-width="2.45" />
<line x1="245.70" y1="669.80" x2="269.50" y2="669.80" stroke="#000" stroke-width="2.45" />
<line x1="245.70" y1="788.60" x2="269.50" y2="788.60" stroke="#000" stroke-width="2.45" />
<rect x="234.22" y="698.70" width="46.95" height="68.60" fill="#8180fd" stroke="#000" stroke-width="2.45"/>
<line x1="234.22" y1="730.50" x2="281.17" y2="730.50" stroke="#000" stroke-width="2.45" />
<line x1="105.30" y1="682.90" x2="181.50" y2="682.90" stroke="#000" stroke-width="1.7" />
<line x1="142.50" y1="670.55" x2="142.50" y2="675.65" stroke="#000" stroke-width="1.45" stroke-linecap="round"/>
<line x1="140.29" y1="671.83" x2="144.71" y2="674.38" stroke="#000" stroke-width="1.45" stroke-linecap="round"/>
<line x1="140.29" y1="674.38" x2="144.71" y2="671.83" stroke="#000" stroke-width="1.45" stroke-linecap="round"/>
<text transform="translate(25.20,725.50) rotate(-90)" font-family="Liberation Sans" font-size="13.5" font-weight="bold" text-anchor="middle">Qstat</text>
<line x1="373.90" y1="641.10" x2="373.90" y2="810.90" stroke="#000" stroke-width="1.9" />
<line x1="373.90" y1="810.00" x2="626.50" y2="810.00" stroke="#000" stroke-width="1.9" />
<line x1="367.10" y1="642.00" x2="373.90" y2="642.00" stroke="#000" stroke-width="1.9" />
<text x="365.60" y="646.50" font-family="Liberation Sans" font-size="12.7" font-weight="bold" text-anchor="end" fill="#000" >4.5</text>
<line x1="367.10" y1="698.00" x2="373.90" y2="698.00" stroke="#000" stroke-width="1.9" />
<text x="365.60" y="702.50" font-family="Liberation Sans" font-size="12.7" font-weight="bold" text-anchor="end" fill="#000" >4.0</text>
<line x1="367.10" y1="754.00" x2="373.90" y2="754.00" stroke="#000" stroke-width="1.9" />
<text x="365.60" y="758.50" font-family="Liberation Sans" font-size="12.7" font-weight="bold" text-anchor="end" fill="#000" >3.5</text>
<line x1="367.10" y1="810.00" x2="373.90" y2="810.00" stroke="#000" stroke-width="1.9" />
<text x="365.60" y="814.50" font-family="Liberation Sans" font-size="12.7" font-weight="bold" text-anchor="end" fill="#000" >3.0</text>
<line x1="424.40" y1="810.00" x2="424.40" y2="817.20" stroke="#000" stroke-width="1.9" />
<text x="424.40" y="830.40" font-family="Liberation Sans" font-size="12.5" font-weight="bold" text-anchor="middle" fill="#000" >Control</text>
<line x1="499.80" y1="810.00" x2="499.80" y2="817.20" stroke="#000" stroke-width="1.9" />
<text x="499.80" y="830.40" font-family="Liberation Sans" font-size="12.5" font-weight="bold" text-anchor="middle" fill="#000" >T1D</text>
<line x1="575.60" y1="810.00" x2="575.60" y2="817.20" stroke="#000" stroke-width="1.9" />
<text x="575.60" y="830.40" font-family="Liberation Sans" font-size="12.5" font-weight="bold" text-anchor="middle" fill="#000" >T1D+NaB</text>
<line x1="424.65" y1="673.70" x2="424.65" y2="684.60" stroke="#000" stroke-width="2.45" />
<line x1="424.65" y1="757.60" x2="424.65" y2="771.20" stroke="#000" stroke-width="2.45" />
<line x1="412.00" y1="673.70" x2="436.50" y2="673.70" stroke="#000" stroke-width="2.45" />
<line x1="412.00" y1="771.20" x2="436.50" y2="771.20" stroke="#000" stroke-width="2.45" />
<rect x="401.23" y="684.60" width="46.85" height="73.00" fill="#a2a1a7" stroke="#000" stroke-width="2.45"/>
<line x1="401.23" y1="708.20" x2="448.07" y2="708.20" stroke="#000" stroke-width="2.45" />
<line x1="499.95" y1="666.60" x2="499.95" y2="672.70" stroke="#000" stroke-width="2.45" />
<line x1="499.95" y1="714.30" x2="499.95" y2="722.30" stroke="#000" stroke-width="2.45" />
<line x1="487.40" y1="666.60" x2="511.70" y2="666.60" stroke="#000" stroke-width="2.45" />
<line x1="487.40" y1="722.30" x2="511.70" y2="722.30" stroke="#000" stroke-width="2.45" />
<rect x="476.62" y="672.70" width="46.65" height="41.60" fill="#fe7f7f" stroke="#000" stroke-width="2.45"/>
<line x1="476.62" y1="687.60" x2="523.27" y2="687.60" stroke="#000" stroke-width="2.45" />
<line x1="575.60" y1="669.40" x2="575.60" y2="677.90" stroke="#000" stroke-width="2.45" />
<line x1="575.60" y1="712.10" x2="575.60" y2="722.30" stroke="#000" stroke-width="2.45" />
<line x1="563.00" y1="669.40" x2="587.50" y2="669.40" stroke="#000" stroke-width="2.45" />
<line x1="563.00" y1="722.30" x2="587.50" y2="722.30" stroke="#000" stroke-width="2.45" />
<rect x="552.02" y="677.90" width="47.15" height="34.20" fill="#8180fd" stroke="#000" stroke-width="2.45"/>
<line x1="552.02" y1="695.40" x2="599.17" y2="695.40" stroke="#000" stroke-width="2.45" />
<text transform="translate(341.00,726.50) rotate(-90)" font-family="Liberation Sans" font-size="13.5" font-weight="bold" text-anchor="middle">Shannon</text>
<line x1="55.70" y1="882.50" x2="55.70" y2="1052.90" stroke="#000" stroke-width="1.9" />
<line x1="55.70" y1="1052.00" x2="308.50" y2="1052.00" stroke="#000" stroke-width="1.9" />
<line x1="48.90" y1="883.40" x2="55.70" y2="883.40" stroke="#000" stroke-width="1.9" />
<text x="46.60" y="887.90" font-family="Liberation Sans" font-size="12.7" font-weight="bold" text-anchor="end" fill="#000" >0.75</text>
<line x1="48.90" y1="925.55" x2="55.70" y2="925.55" stroke="#000" stroke-width="1.9" />
<text x="46.60" y="930.05" font-family="Liberation Sans" font-size="12.7" font-weight="bold" text-anchor="end" fill="#000" >0.70</text>
<line x1="48.90" y1="967.70" x2="55.70" y2="967.70" stroke="#000" stroke-width="1.9" />
<text x="46.60" y="972.20" font-family="Liberation Sans" font-size="12.7" font-weight="bold" text-anchor="end" fill="#000" >0.65</text>
<line x1="48.90" y1="1009.85" x2="55.70" y2="1009.85" stroke="#000" stroke-width="1.9" />
<text x="46.60" y="1014.35" font-family="Liberation Sans" font-size="12.7" font-weight="bold" text-anchor="end" fill="#000" >0.60</text>
<line x1="48.90" y1="1052.00" x2="55.70" y2="1052.00" stroke="#000" stroke-width="1.9" />
<text x="46.60" y="1056.50" font-family="Liberation Sans" font-size="12.7" font-weight="bold" text-anchor="end" fill="#000" >0.55</text>
<line x1="105.90" y1="1052.00" x2="105.90" y2="1059.20" stroke="#000" stroke-width="1.9" />
<text x="105.90" y="1071.50" font-family="Liberation Sans" font-size="12.5" font-weight="bold" text-anchor="middle" fill="#000" >Control</text>
<line x1="181.50" y1="1052.00" x2="181.50" y2="1059.20" stroke="#000" stroke-width="1.9" />
<text x="181.50" y="1071.50" font-family="Liberation Sans" font-size="12.5" font-weight="bold" text-anchor="middle" fill="#000" >T1D</text>
<line x1="257.40" y1="1052.00" x2="257.40" y2="1059.20" stroke="#000" stroke-width="1.9" />
<text x="257.40" y="1071.50" font-family="Liberation Sans" font-size="12.5" font-weight="bold" text-anchor="middle" fill="#000" >T1D+NaB</text>
<line x1="106.05" y1="899.00" x2="106.05" y2="912.70" stroke="#000" stroke-width="2.45" />
<line x1="106.05" y1="1005.20" x2="106.05" y2="1023.00" stroke="#000" stroke-width="2.45" />
<line x1="94.00" y1="899.00" x2="118.70" y2="899.00" stroke="#000" stroke-width="2.45" />
<line x1="94.00" y1="1023.00" x2="118.70" y2="1023.00" stroke="#000" stroke-width="2.45" />
<rect x="82.62" y="912.70" width="46.85" height="92.50" fill="#a2a1a7" stroke="#000" stroke-width="2.45"/>
<line x1="82.62" y1="948.20" x2="129.47" y2="948.20" stroke="#000" stroke-width="2.45" />
<line x1="181.85" y1="909.80" x2="181.85" y2="912.00" stroke="#000" stroke-width="2.45" />
<line x1="181.85" y1="960.30" x2="181.85" y2="967.90" stroke="#000" stroke-width="2.45" />
<line x1="169.80" y1="909.80" x2="193.70" y2="909.80" stroke="#000" stroke-width="2.45" />
<line x1="169.80" y1="967.90" x2="193.70" y2="967.90" stroke="#000" stroke-width="2.45" />
<rect x="158.42" y="912.00" width="46.85" height="48.30" fill="#fe7f7f" stroke="#000" stroke-width="2.45"/>
<line x1="158.42" y1="930.40" x2="205.28" y2="930.40" stroke="#000" stroke-width="2.45" />
<line x1="257.50" y1="917.40" x2="257.50" y2="921.80" stroke="#000" stroke-width="2.45" />
<line x1="257.50" y1="951.00" x2="257.50" y2="955.80" stroke="#000" stroke-width="2.45" />
<line x1="245.70" y1="917.40" x2="269.50" y2="917.40" stroke="#000" stroke-width="2.45" />
<line x1="245.70" y1="955.80" x2="269.50" y2="955.80" stroke="#000" stroke-width="2.45" />
<rect x="233.82" y="921.80" width="47.35" height="29.20" fill="#8180fd" stroke="#000" stroke-width="2.45"/>
<line x1="233.82" y1="935.80" x2="281.17" y2="935.80" stroke="#000" stroke-width="2.45" />
<text transform="translate(14.70,968.20) rotate(-90)" font-family="Liberation Sans" font-size="13.5" font-weight="bold" text-anchor="middle">Shannoneven</text>
<line x1="374.50" y1="884.00" x2="374.50" y2="1053.50" stroke="#000" stroke-width="1.9" />
<line x1="374.50" y1="1052.60" x2="626.80" y2="1052.60" stroke="#000" stroke-width="1.9" />
<line x1="367.70" y1="884.90" x2="374.50" y2="884.90" stroke="#000" stroke-width="1.9" />
<text x="365.60" y="889.40" font-family="Liberation Sans" font-size="12.7" font-weight="bold" text-anchor="end" fill="#000" >0.15</text>
<line x1="367.70" y1="940.80" x2="374.50" y2="940.80" stroke="#000" stroke-width="1.9" />
<text x="365.60" y="945.30" font-family="Liberation Sans" font-size="12.7" font-weight="bold" text-anchor="end" fill="#000" >0.10</text>
<line x1="367.70" y1="996.70" x2="374.50" y2="996.70" stroke="#000" stroke-width="1.9" />
<text x="365.60" y="1001.20" font-family="Liberation Sans" font-size="12.7" font-weight="bold" text-anchor="end" fill="#000" >0.05</text>
<line x1="367.70" y1="1052.60" x2="374.50" y2="1052.60" stroke="#000" stroke-width="1.9" />
<text x="365.60" y="1057.10" font-family="Liberation Sans" font-size="12.7" font-weight="bold" text-anchor="end" fill="#000" >0.00</text>
<line x1="424.60" y1="1052.60" x2="424.60" y2="1059.80" stroke="#000" stroke-width="1.9" />
<text x="424.60" y="1072.50" font-family="Liberation Sans" font-size="12.5" font-weight="bold" text-anchor="middle" fill="#000" >Control</text>
<line x1="500.20" y1="1052.60" x2="500.20" y2="1059.80" stroke="#000" stroke-width="1.9" />
<text x="500.20" y="1072.50" font-family="Liberation Sans" font-size="12.5" font-weight="bold" text-anchor="middle" fill="#000" >T1D</text>
<line x1="575.60" y1="1052.60" x2="575.60" y2="1059.80" stroke="#000" stroke-width="1.9" />
<text x="575.60" y="1072.50" font-family="Liberation Sans" font-size="12.5" font-weight="bold" text-anchor="middle" fill="#000" >T1D+NaB</text>
<line x1="425.25" y1="918.90" x2="425.25" y2="935.40" stroke="#000" stroke-width="2.45" />
<line x1="425.25" y1="999.80" x2="425.25" y2="1014.90" stroke="#000" stroke-width="2.45" />
<line x1="413.00" y1="918.90" x2="437.40" y2="918.90" stroke="#000" stroke-width="2.45" />
<line x1="413.00" y1="1014.90" x2="437.40" y2="1014.90" stroke="#000" stroke-width="2.45" />
<rect x="401.93" y="935.40" width="46.65" height="64.40" fill="#a2a1a7" stroke="#000" stroke-width="2.45"/>
<line x1="401.93" y1="959.00" x2="448.57" y2="959.00" stroke="#000" stroke-width="2.45" />
<line x1="500.55" y1="951.00" x2="500.55" y2="955.30" stroke="#000" stroke-width="2.45" />
<line x1="500.55" y1="989.40" x2="500.55" y2="1001.50" stroke="#000" stroke-width="2.45" />
<line x1="487.80" y1="951.00" x2="512.80" y2="951.00" stroke="#000" stroke-width="2.45" />
<line x1="487.80" y1="1001.50" x2="512.80" y2="1001.50" stroke="#000" stroke-width="2.45" />
<rect x="477.12" y="955.30" width="46.85" height="34.10" fill="#fe7f7f" stroke="#000" stroke-width="2.45"/>
<line x1="477.12" y1="965.70" x2="523.98" y2="965.70" stroke="#000" stroke-width="2.45" />
<line x1="575.90" y1="955.30" x2="575.90" y2="955.30" stroke="#000" stroke-width="2.45" />
<line x1="575.90" y1="980.70" x2="575.90" y2="991.70" stroke="#000" stroke-width="2.45" />
<line x1="564.10" y1="955.30" x2="588.00" y2="955.30" stroke="#000" stroke-width="2.45" />
<line x1="564.10" y1="991.70" x2="588.00" y2="991.70" stroke="#000" stroke-width="2.45" />
<rect x="552.52" y="955.30" width="46.75" height="25.40" fill="#8180fd" stroke="#000" stroke-width="2.45"/>
<line x1="552.52" y1="966.80" x2="599.27" y2="966.80" stroke="#000" stroke-width="2.45" />
<text transform="translate(331.70,968.40) rotate(-90)" font-family="Liberation Sans" font-size="13.5" font-weight="bold" text-anchor="middle">Simpsoneven</text>
<text transform="translate(10.00,383.80) scale(0.937,1)" font-family="Liberation Serif" font-size="30.41">C</text>
<text transform="translate(35.50,383.80) scale(0.937,1)" font-family="Liberation Serif" font-size="30.41">a</text>
<text transform="translate(350.00,383.60) scale(0.937,1)" font-family="Liberation Serif" font-size="30.41">b</text>
<text transform="translate(-0.50,628.00) scale(0.937,1)" font-family="Liberation Serif" font-size="30.41">D</text>
<text transform="translate(27.50,628.00) scale(0.937,1)" font-family="Liberation Serif" font-size="30.41">a</text>
<text transform="translate(350.00,626.30) scale(0.937,1)" font-family="Liberation Serif" font-size="30.41">b</text>
<text transform="translate(1.00,869.30) scale(0.937,1)" font-family="Liberation Serif" font-size="30.41">E</text>
<text transform="translate(25.00,869.30) scale(0.937,1)" font-family="Liberation Serif" font-size="30.41">a</text>
<text transform="translate(350.00,869.30) scale(0.937,1)" font-family="Liberation Serif" font-size="30.41">b</text>
<text transform="translate(644.50,393.20) scale(0.937,1)" font-family="Liberation Serif" font-size="28.81">F</text>
<line x1="670.00" y1="514.40" x2="945.30" y2="514.40" stroke="#707070" stroke-width="2.6" stroke-dasharray="4.2 4.7"/>
<line x1="772.70" y1="407.30" x2="772.70" y2="632.70" stroke="#707070" stroke-width="2.6" stroke-dasharray="4.2 4.7"/>
<ellipse cx="743.6" cy="479.3" rx="49" ry="5.6" transform="rotate(-77.1 743.6 479.3)" fill="none" stroke="#f27070" stroke-width="2"/>
<ellipse cx="732.1" cy="534.4" rx="41.3" ry="28.6" transform="rotate(28.3 732.1 534.4)" fill="none" stroke="#6b6bf0" stroke-width="1.9"/>
<ellipse cx="842.2" cy="528.7" rx="72.2" ry="10.6" transform="rotate(-49.7 842.2 528.7)" fill="none" stroke="#555555" stroke-width="1.9"/>
<polygon points="750.40,445.90 757.40,445.90 753.90,439.70" fill="#f03a3a"/>
<polygon points="749.90,464.80 756.90,464.80 753.40,458.60" fill="#f03a3a"/>
<polygon points="740.70,468.80 747.70,468.80 744.20,462.60" fill="#f03a3a"/>
<polygon points="731.60,492.00 738.60,492.00 735.10,485.80" fill="#f03a3a"/>
<polygon points="731.60,539.20 738.60,539.20 735.10,533.00" fill="#f03a3a"/>
<polygon points="727.60,491.90 730.40,496.40 727.60,500.90 724.80,496.40" fill="#0000ee"/>
<polygon points="730.40,523.30 733.20,527.80 730.40,532.30 727.60,527.80" fill="#0000ee"/>
<polygon points="700.20,538.90 703.00,543.40 700.20,547.90 697.40,543.40" fill="#0000ee"/>
<polygon points="722.90,544.40 725.70,548.90 722.90,553.40 720.10,548.90" fill="#0000ee"/>
<polygon points="779.40,552.30 782.20,556.80 779.40,561.30 776.60,556.80" fill="#0000ee"/>
<circle cx="898.40" cy="455.60" r="3.1" fill="#5a5a5a"/>
<circle cx="821.00" cy="537.90" r="3.1" fill="#5a5a5a"/>
<circle cx="855.00" cy="536.40" r="3.1" fill="#5a5a5a"/>
<circle cx="817.00" cy="554.30" r="3.1" fill="#5a5a5a"/>
<circle cx="817.50" cy="560.40" r="3.1" fill="#5a5a5a"/>
<rect x="670.00" y="407.30" width="275.30" height="225.40" fill="none" stroke="#000" stroke-width="2"/>
<line x1="666.60" y1="407.26" x2="670.00" y2="407.26" stroke="#000" stroke-width="1.3" />
<text x="664.50" y="409.86" font-family="Liberation Serif" font-size="7.4" text-anchor="end" fill="#222" >20</text>
<line x1="666.60" y1="434.04" x2="670.00" y2="434.04" stroke="#000" stroke-width="1.3" />
<text x="664.50" y="436.64" font-family="Liberation Serif" font-size="7.4" text-anchor="end" fill="#222" >15</text>
<line x1="666.60" y1="460.83" x2="670.00" y2="460.83" stroke="#000" stroke-width="1.3" />
<text x="664.50" y="463.43" font-family="Liberation Serif" font-size="7.4" text-anchor="end" fill="#222" >10</text>
<line x1="666.60" y1="487.61" x2="670.00" y2="487.61" stroke="#000" stroke-width="1.3" />
<text x="664.50" y="490.21" font-family="Liberation Serif" font-size="7.4" text-anchor="end" fill="#222" >5</text>
<line x1="666.60" y1="514.40" x2="670.00" y2="514.40" stroke="#000" stroke-width="1.3" />
<text x="664.50" y="517.00" font-family="Liberation Serif" font-size="7.4" text-anchor="end" fill="#222" >0</text>
<line x1="666.60" y1="541.18" x2="670.00" y2="541.18" stroke="#000" stroke-width="1.3" />
<text x="664.50" y="543.78" font-family="Liberation Serif" font-size="7.4" text-anchor="end" fill="#222" >-5</text>
<line x1="666.60" y1="567.97" x2="670.00" y2="567.97" stroke="#000" stroke-width="1.3" />
<text x="664.50" y="570.57" font-family="Liberation Serif" font-size="7.4" text-anchor="end" fill="#222" >-10</text>
<line x1="666.60" y1="594.75" x2="670.00" y2="594.75" stroke="#000" stroke-width="1.3" />
<text x="664.50" y="597.36" font-family="Liberation Serif" font-size="7.4" text-anchor="end" fill="#222" >-15</text>
<line x1="666.60" y1="621.54" x2="670.00" y2="621.54" stroke="#000" stroke-width="1.3" />
<text x="664.50" y="624.14" font-family="Liberation Serif" font-size="7.4" text-anchor="end" fill="#222" >-20</text>
<line x1="669.50" y1="632.70" x2="669.50" y2="636.10" stroke="#000" stroke-width="1.3" />
<text x="669.50" y="644.20" font-family="Liberation Serif" font-size="7.4" text-anchor="middle" fill="#222" >-15</text>
<line x1="703.90" y1="632.70" x2="703.90" y2="636.10" stroke="#000" stroke-width="1.3" />
<text x="703.90" y="644.20" font-family="Liberation Serif" font-size="7.4" text-anchor="middle" fill="#222" >-10</text>
<line x1="738.30" y1="632.70" x2="738.30" y2="636.10" stroke="#000" stroke-width="1.3" />
<text x="738.30" y="644.20" font-family="Liberation Serif" font-size="7.4" text-anchor="middle" fill="#222" >-5</text>
<line x1="772.70" y1="632.70" x2="772.70" y2="636.10" stroke="#000" stroke-width="1.3" />
<text x="772.70" y="644.20" font-family="Liberation Serif" font-size="7.4" text-anchor="middle" fill="#222" >0</text>
<line x1="807.10" y1="632.70" x2="807.10" y2="636.10" stroke="#000" stroke-width="1.3" />
<text x="807.10" y="644.20" font-family="Liberation Serif" font-size="7.4" text-anchor="middle" fill="#222" >5</text>
<line x1="841.50" y1="632.70" x2="841.50" y2="636.10" stroke="#000" stroke-width="1.3" />
<text x="841.50" y="644.20" font-family="Liberation Serif" font-size="7.4" text-anchor="middle" fill="#222" >10</text>
<line x1="875.90" y1="632.70" x2="875.90" y2="636.10" stroke="#000" stroke-width="1.3" />
<text x="875.90" y="644.20" font-family="Liberation Serif" font-size="7.4" text-anchor="middle" fill="#222" >15</text>
<line x1="910.30" y1="632.70" x2="910.30" y2="636.10" stroke="#000" stroke-width="1.3" />
<text x="910.30" y="644.20" font-family="Liberation Serif" font-size="7.4" text-anchor="middle" fill="#222" >20</text>
<line x1="944.70" y1="632.70" x2="944.70" y2="636.10" stroke="#000" stroke-width="1.3" />
<text x="944.70" y="644.20" font-family="Liberation Serif" font-size="7.4" text-anchor="middle" fill="#222" >25</text>
<text x="797.70" y="658.80" font-family="Liberation Serif" font-size="10" text-anchor="middle" fill="#000" >PC1 (12.78%)</text>
<text transform="translate(650.8,505) rotate(-90)" font-family="Liberation Serif" font-size="10" text-anchor="middle">PC2 (11.24%)</text>
<text x="679.70" y="421.30" font-family="Liberation Serif" font-size="8.6" text-anchor="start" fill="#111" >R=0.3191</text>
<text x="679.7" y="431.6" font-family="Liberation Serif" font-size="8.6" fill="#111"><tspan font-style="italic">P</tspan>=0.001</text>
<text transform="translate(964.00,393.70) scale(0.937,1)" font-family="Liberation Serif" font-size="28.81">G</text>
<line x1="1074.00" y1="420.30" x2="1074.00" y2="543.10" stroke="#000" stroke-width="1.8" />
<line x1="1074.00" y1="543.10" x2="983.60" y2="585.40" stroke="#000" stroke-width="1.7" />
<line x1="1074.00" y1="543.10" x2="1136.20" y2="605.20" stroke="#000" stroke-width="1.7" />
<line x1="1074.00" y1="420.30" x2="983.60" y2="462.60" stroke="#000" stroke-width="1.8" />
<line x1="1074.00" y1="420.30" x2="1136.20" y2="481.70" stroke="#000" stroke-width="1.8" />
<line x1="983.60" y1="462.60" x2="1045.90" y2="523.90" stroke="#000" stroke-width="1.8" />
<line x1="1136.20" y1="481.70" x2="1045.90" y2="523.90" stroke="#000" stroke-width="1.8" />
<line x1="983.60" y1="462.60" x2="983.60" y2="585.40" stroke="#000" stroke-width="1.8" />
<line x1="1136.20" y1="481.70" x2="1136.20" y2="605.20" stroke="#000" stroke-width="1.8" />
<line x1="1045.90" y1="523.90" x2="1045.90" y2="646.60" stroke="#000" stroke-width="1.8" />
<line x1="983.60" y1="585.40" x2="1045.90" y2="646.60" stroke="#000" stroke-width="1.8" />
<line x1="1136.20" y1="605.20" x2="1045.90" y2="646.60" stroke="#000" stroke-width="1.8" />
<polygon points="1074,413.2 1070.8,420.3 1077.2,420.3" fill="#6a6a6a"/>
<polygon points="976.5,589 984.5,582.6 986.2,588.6" fill="#6a6a6a"/>
<polygon points="1143.5,609.6 1133.8,608.2 1137.6,602" fill="#6a6a6a"/>
<line x1="1071.60" y1="451.70" x2="1074.00" y2="451.70" stroke="#000" stroke-width="1.4" />
<line x1="1071.60" y1="482.30" x2="1074.00" y2="482.30" stroke="#000" stroke-width="1.4" />
<line x1="1071.60" y1="512.75" x2="1074.00" y2="512.75" stroke="#000" stroke-width="1.4" />
<line x1="1052.40" y1="553.20" x2="1053.60" y2="555.80" stroke="#000" stroke-width="1.4" />
<line x1="1029.60" y1="563.80" x2="1030.80" y2="566.40" stroke="#000" stroke-width="1.4" />
<line x1="1007.75" y1="574.30" x2="1008.95" y2="576.90" stroke="#000" stroke-width="1.4" />
<line x1="1088.25" y1="557.50" x2="1085.85" y2="558.70" stroke="#000" stroke-width="1.4" />
<line x1="1103.10" y1="572.50" x2="1100.70" y2="573.70" stroke="#000" stroke-width="1.4" />
<line x1="1118.90" y1="588.20" x2="1116.50" y2="589.40" stroke="#000" stroke-width="1.4" />
<text x="1062.20" y="422.30" font-family="Liberation Sans" font-size="6.2" text-anchor="middle" fill="#333" >19</text>
<text x="1065.50" y="453.80" font-family="Liberation Sans" font-size="6.2" text-anchor="middle" fill="#333" >11.50</text>
<text x="1060.30" y="484.40" font-family="Liberation Sans" font-size="6.2" text-anchor="middle" fill="#333" >4</text>
<text x="1064.60" y="514.90" font-family="Liberation Sans" font-size="6.2" text-anchor="middle" fill="#333" >-3.50</text>
<text x="1062.90" y="545.30" font-family="Liberation Sans" font-size="6.2" text-anchor="middle" fill="#333" >-11</text>
<text x="1066.40" y="550.40" font-family="Liberation Sans" font-size="6.2" text-anchor="middle" fill="#333" >-9</text>
<text x="1078.00" y="550.20" font-family="Liberation Sans" font-size="6.2" text-anchor="middle" fill="#333" >-10</text>
<text x="1030.50" y="571.80" font-family="Liberation Sans" font-size="6.2" text-anchor="middle" fill="#333" >-4</text>
<text x="1011.30" y="582.20" font-family="Liberation Sans" font-size="6.2" text-anchor="middle" fill="#333" >3.00</text>
<text x="1085.60" y="565.60" font-family="Liberation Sans" font-size="6.2" text-anchor="middle" fill="#333" >-3.25</text>
<text x="1100.50" y="581.40" font-family="Liberation Sans" font-size="6.2" text-anchor="middle" fill="#333" >2.50</text>
<text x="1115.40" y="597.10" font-family="Liberation Sans" font-size="6.2" text-anchor="middle" fill="#333" >8.25</text>
<text x="1128.50" y="612.40" font-family="Liberation Sans" font-size="6.2" text-anchor="middle" fill="#333" >16</text>
<text x="1040.20" y="416.00" font-family="Liberation Serif" font-size="8" text-anchor="middle" fill="#000" >PC1 (12.78%)</text>
<text x="976.90" y="603.80" font-family="Liberation Serif" font-size="8" text-anchor="middle" fill="#000" >PC3 (10.37%)</text>
<text x="1129.20" y="626.50" font-family="Liberation Serif" font-size="8" text-anchor="middle" fill="#000" >PC2 (11.24%)</text>
<circle cx="1025.90" cy="489.00" r="3.1" fill="#5f5f5f"/>
<circle cx="1107.00" cy="487.00" r="3.1" fill="#5f5f5f"/>
<circle cx="1007.75" cy="503.10" r="3.1" fill="#5f5f5f"/>
<circle cx="1025.60" cy="510.65" r="3.1" fill="#5f5f5f"/>
<circle cx="993.40" cy="516.25" r="3.1" fill="#5f5f5f"/>
<polygon points="1006.35,527.40 1008.85,531.50 1006.35,535.60 1003.85,531.50" fill="#0000ee"/>
<polygon points="1027.90,554.50 1030.40,558.60 1027.90,562.70 1025.40,558.60" fill="#0000ee"/>
<polygon points="1040.10,565.50 1042.60,569.60 1040.10,573.70 1037.60,569.60" fill="#0000ee"/>
<polygon points="1070.75,569.00 1073.25,573.10 1070.75,577.20 1068.25,573.10" fill="#0000ee"/>
<polygon points="1090.00,537.90 1092.50,542.00 1090.00,546.10 1087.50,542.00" fill="#0000ee"/>
<polygon points="1010.30,570.30 1016.70,570.30 1013.50,564.70" fill="#f03a3a"/>
<polygon points="1041.30,591.30 1047.70,591.30 1044.50,585.70" fill="#f03a3a"/>
<polygon points="1054.40,594.30 1060.80,594.30 1057.60,588.70" fill="#f03a3a"/>
<polygon points="1042.70,603.05 1049.10,603.05 1045.90,597.45" fill="#f03a3a"/>
<polygon points="1043.90,613.20 1050.30,613.20 1047.10,607.60" fill="#f03a3a"/>
<circle cx="1118.70" cy="408.30" r="3.8" fill="#5f5f5f"/>
<text x="1127.30" y="411.00" font-family="Liberation Serif" font-size="8" text-anchor="start" fill="#111" textLength="21.3" lengthAdjust="spacingAndGlyphs">Control</text>
<polygon points="1114.20,424.00 1123.20,424.00 1118.70,416.60" fill="#f03a3a"/>
<text x="1127.30" y="423.00" font-family="Liberation Serif" font-size="8" text-anchor="start" fill="#111" textLength="12.7" lengthAdjust="spacingAndGlyphs">T1D</text>
<polygon points="1118.70,426.30 1121.60,431.30 1118.70,436.30 1115.80,431.30" fill="#0000ee"/>
<text x="1127.30" y="434.00" font-family="Liberation Serif" font-size="8" text-anchor="start" fill="#111" textLength="29.7" lengthAdjust="spacingAndGlyphs">T1D+NaB</text>
<text transform="translate(637.80,676.40) scale(0.937,1)" font-family="Liberation Serif" font-size="28.81">H</text>
<rect x="756.40" y="686.80" width="195.45" height="13.80" fill="#0000ff" shape-rendering="crispEdges"/>
<rect x="951.60" y="686.80" width="4.40" height="13.80" fill="#ffff00" shape-rendering="crispEdges"/>
<rect x="955.75" y="686.80" width="80.40" height="13.80" fill="#00fa8a" shape-rendering="crispEdges"/>
<rect x="1035.90" y="686.80" width="14.05" height="13.80" fill="#ff1493" shape-rendering="crispEdges"/>
<rect x="1049.70" y="686.80" width="4.65" height="13.80" fill="#8b4789" shape-rendering="crispEdges"/>
<rect x="1054.10" y="686.80" width="11.85" height="13.80" fill="#ff6a6a" shape-rendering="crispEdges"/>
<rect x="1065.70" y="686.80" width="39.45" height="13.80" fill="#ffb90f" shape-rendering="crispEdges"/>
<rect x="1104.90" y="686.80" width="20.35" height="13.80" fill="#ff7f24" shape-rendering="crispEdges"/>
<rect x="1125.00" y="686.80" width="1.65" height="13.80" fill="#a6cee3" shape-rendering="crispEdges"/>
<rect x="1126.40" y="686.80" width="11.05" height="13.80" fill="#1f78b4" shape-rendering="crispEdges"/>
<rect x="1137.20" y="686.80" width="8.15" height="13.80" fill="#b2df8a" shape-rendering="crispEdges"/>
<rect x="1145.10" y="686.80" width="2.55" height="13.80" fill="#33a02c" shape-rendering="crispEdges"/>
<text x="754.60" y="696.10" font-family="Liberation Sans" font-size="9" text-anchor="end" fill="#000" >D05</text>
<rect x="756.40" y="712.02" width="211.85" height="13.80" fill="#0000ff" shape-rendering="crispEdges"/>
<rect x="968.00" y="712.02" width="3.45" height="13.80" fill="#458b00" shape-rendering="crispEdges"/>
<rect x="971.20" y="712.02" width="24.70" height="13.80" fill="#ffff00" shape-rendering="crispEdges"/>
<rect x="995.65" y="712.02" width="5.30" height="13.80" fill="#ff4500" shape-rendering="crispEdges"/>
<rect x="1000.70" y="712.02" width="5.15" height="13.80" fill="#00fa8a" shape-rendering="crispEdges"/>
<rect x="1005.60" y="712.02" width="14.85" height="13.80" fill="#ff1493" shape-rendering="crispEdges"/>
<rect x="1020.20" y="712.02" width="7.05" height="13.80" fill="#8b4789" shape-rendering="crispEdges"/>
<rect x="1027.00" y="712.02" width="5.15" height="13.80" fill="#ff6a6a" shape-rendering="crispEdges"/>
<rect x="1031.90" y="712.02" width="12.45" height="13.80" fill="#ffb90f" shape-rendering="crispEdges"/>
<rect x="1044.10" y="712.02" width="1.55" height="13.80" fill="#00ff00" shape-rendering="crispEdges"/>
<rect x="1045.40" y="712.02" width="48.35" height="13.80" fill="#ff7f24" shape-rendering="crispEdges"/>
<rect x="1093.50" y="712.02" width="11.65" height="13.80" fill="#a6cee3" shape-rendering="crispEdges"/>
<rect x="1104.90" y="712.02" width="12.10" height="13.80" fill="#1f78b4" shape-rendering="crispEdges"/>
<rect x="1116.75" y="712.02" width="4.60" height="13.80" fill="#b2df8a" shape-rendering="crispEdges"/>
<rect x="1121.10" y="712.02" width="26.55" height="13.80" fill="#33a02c" shape-rendering="crispEdges"/>
<text x="754.60" y="721.32" font-family="Liberation Sans" font-size="9" text-anchor="end" fill="#000" >D04</text>
<rect x="756.40" y="737.24" width="212.75" height="13.80" fill="#0000ff" shape-rendering="crispEdges"/>
<rect x="968.90" y="737.24" width="4.25" height="13.80" fill="#8a2be2" shape-rendering="crispEdges"/>
<rect x="972.90" y="737.24" width="2.00" height="13.80" fill="#ffff00" shape-rendering="crispEdges"/>
<rect x="974.65" y="737.24" width="2.35" height="13.80" fill="#ff4500" shape-rendering="crispEdges"/>
<rect x="976.75" y="737.24" width="5.50" height="13.80" fill="#00fa8a" shape-rendering="crispEdges"/>
<rect x="982.00" y="737.24" width="11.25" height="13.80" fill="#ff1493" shape-rendering="crispEdges"/>
<rect x="993.00" y="737.24" width="5.00" height="13.80" fill="#8b4789" shape-rendering="crispEdges"/>
<rect x="997.75" y="737.24" width="19.15" height="13.80" fill="#ff6a6a" shape-rendering="crispEdges"/>
<rect x="1016.65" y="737.24" width="14.60" height="13.80" fill="#ffb90f" shape-rendering="crispEdges"/>
<rect x="1031.00" y="737.24" width="2.35" height="13.80" fill="#00ff00" shape-rendering="crispEdges"/>
<rect x="1033.10" y="737.24" width="15.30" height="13.80" fill="#ff7f24" shape-rendering="crispEdges"/>
<rect x="1048.15" y="737.24" width="22.00" height="13.80" fill="#a6cee3" shape-rendering="crispEdges"/>
<rect x="1069.90" y="737.24" width="26.10" height="13.80" fill="#1f78b4" shape-rendering="crispEdges"/>
<rect x="1095.75" y="737.24" width="33.85" height="13.80" fill="#b2df8a" shape-rendering="crispEdges"/>
<rect x="1129.35" y="737.24" width="18.30" height="13.80" fill="#33a02c" shape-rendering="crispEdges"/>
<text x="754.60" y="746.54" font-family="Liberation Sans" font-size="9" text-anchor="end" fill="#000" >D03</text>
<rect x="756.40" y="762.46" width="201.75" height="13.80" fill="#0000ff" shape-rendering="crispEdges"/>
<rect x="957.90" y="762.46" width="4.45" height="13.80" fill="#005c00" shape-rendering="crispEdges"/>
<rect x="962.10" y="762.46" width="4.40" height="13.80" fill="#8a2be2" shape-rendering="crispEdges"/>
<rect x="966.25" y="762.46" width="2.30" height="13.80" fill="#ffff00" shape-rendering="crispEdges"/>
<rect x="968.30" y="762.46" width="9.45" height="13.80" fill="#ff4500" shape-rendering="crispEdges"/>
<rect x="977.50" y="762.46" width="7.15" height="13.80" fill="#00fa8a" shape-rendering="crispEdges"/>
<rect x="984.40" y="762.46" width="3.75" height="13.80" fill="#ff1493" shape-rendering="crispEdges"/>
<rect x="987.90" y="762.46" width="17.55" height="13.80" fill="#8b4789" shape-rendering="crispEdges"/>
<rect x="1005.20" y="762.46" width="5.05" height="13.80" fill="#ff6a6a" shape-rendering="crispEdges"/>
<rect x="1010.00" y="762.46" width="5.85" height="13.80" fill="#ffb90f" shape-rendering="crispEdges"/>
<rect x="1015.60" y="762.46" width="1.35" height="13.80" fill="#00ff00" shape-rendering="crispEdges"/>
<rect x="1016.70" y="762.46" width="25.65" height="13.80" fill="#ff7f24" shape-rendering="crispEdges"/>
<rect x="1042.10" y="762.46" width="13.35" height="13.80" fill="#a6cee3" shape-rendering="crispEdges"/>
<rect x="1055.20" y="762.46" width="17.35" height="13.80" fill="#1f78b4" shape-rendering="crispEdges"/>
<rect x="1072.30" y="762.46" width="33.55" height="13.80" fill="#b2df8a" shape-rendering="crispEdges"/>
<rect x="1105.60" y="762.46" width="42.05" height="13.80" fill="#33a02c" shape-rendering="crispEdges"/>
<text x="754.60" y="771.76" font-family="Liberation Sans" font-size="9" text-anchor="end" fill="#000" >D01</text>
<rect x="756.40" y="787.68" width="186.55" height="13.80" fill="#0000ff" shape-rendering="crispEdges"/>
<rect x="942.70" y="787.68" width="6.55" height="13.80" fill="#8a2be2" shape-rendering="crispEdges"/>
<rect x="949.00" y="787.68" width="1.75" height="13.80" fill="#458b00" shape-rendering="crispEdges"/>
<rect x="950.50" y="787.68" width="3.50" height="13.80" fill="#ffff00" shape-rendering="crispEdges"/>
<rect x="953.75" y="787.68" width="24.60" height="13.80" fill="#ff4500" shape-rendering="crispEdges"/>
<rect x="978.10" y="787.68" width="2.95" height="13.80" fill="#00fa8a" shape-rendering="crispEdges"/>
<rect x="980.80" y="787.68" width="5.95" height="13.80" fill="#ff1493" shape-rendering="crispEdges"/>
<rect x="986.50" y="787.68" width="17.95" height="13.80" fill="#8b4789" shape-rendering="crispEdges"/>
<rect x="1004.20" y="787.68" width="8.55" height="13.80" fill="#ff6a6a" shape-rendering="crispEdges"/>
<rect x="1012.50" y="787.68" width="4.45" height="13.80" fill="#ffb90f" shape-rendering="crispEdges"/>
<rect x="1016.70" y="787.68" width="2.30" height="13.80" fill="#00ff00" shape-rendering="crispEdges"/>
<rect x="1018.75" y="787.68" width="5.90" height="13.80" fill="#ff7f24" shape-rendering="crispEdges"/>
<rect x="1024.40" y="787.68" width="15.85" height="13.80" fill="#a6cee3" shape-rendering="crispEdges"/>
<rect x="1040.00" y="787.68" width="21.75" height="13.80" fill="#1f78b4" shape-rendering="crispEdges"/>
<rect x="1061.50" y="787.68" width="45.00" height="13.80" fill="#b2df8a" shape-rendering="crispEdges"/>
<rect x="1106.25" y="787.68" width="41.40" height="13.80" fill="#33a02c" shape-rendering="crispEdges"/>
<text x="754.60" y="796.98" font-family="Liberation Sans" font-size="9" text-anchor="end" fill="#000" >D02</text>
<rect x="756.40" y="812.90" width="220.35" height="13.80" fill="#0000ff" shape-rendering="crispEdges"/>
<rect x="976.50" y="812.90" width="6.65" height="13.80" fill="#8a2be2" shape-rendering="crispEdges"/>
<rect x="982.90" y="812.90" width="1.10" height="13.80" fill="#00f0ff" shape-rendering="crispEdges"/>
<rect x="983.75" y="812.90" width="3.00" height="13.80" fill="#458b00" shape-rendering="crispEdges"/>
<rect x="986.50" y="812.90" width="3.75" height="13.80" fill="#ffff00" shape-rendering="crispEdges"/>
<rect x="990.00" y="812.90" width="6.05" height="13.80" fill="#ff4500" shape-rendering="crispEdges"/>
<rect x="995.80" y="812.90" width="2.95" height="13.80" fill="#00fa8a" shape-rendering="crispEdges"/>
<rect x="998.50" y="812.90" width="8.00" height="13.80" fill="#ff1493" shape-rendering="crispEdges"/>
<rect x="1006.25" y="812.90" width="8.20" height="13.80" fill="#8b4789" shape-rendering="crispEdges"/>
<rect x="1014.20" y="812.90" width="12.75" height="13.80" fill="#ff6a6a" shape-rendering="crispEdges"/>
<rect x="1026.70" y="812.90" width="7.95" height="13.80" fill="#ffb90f" shape-rendering="crispEdges"/>
<rect x="1034.40" y="812.90" width="3.35" height="13.80" fill="#00ff00" shape-rendering="crispEdges"/>
<rect x="1037.50" y="812.90" width="4.85" height="13.80" fill="#ff7f24" shape-rendering="crispEdges"/>
<rect x="1042.10" y="812.90" width="23.15" height="13.80" fill="#a6cee3" shape-rendering="crispEdges"/>
<rect x="1065.00" y="812.90" width="20.05" height="13.80" fill="#1f78b4" shape-rendering="crispEdges"/>
<rect x="1084.80" y="812.90" width="14.45" height="13.80" fill="#b2df8a" shape-rendering="crispEdges"/>
<rect x="1099.00" y="812.90" width="48.65" height="13.80" fill="#33a02c" shape-rendering="crispEdges"/>
<text x="754.60" y="822.20" font-family="Liberation Sans" font-size="9" text-anchor="end" fill="#000" >B01</text>
<rect x="756.40" y="838.12" width="158.85" height="13.80" fill="#0000ff" shape-rendering="crispEdges"/>
<rect x="915.00" y="838.12" width="21.05" height="13.80" fill="#8a2be2" shape-rendering="crispEdges"/>
<rect x="935.80" y="838.12" width="2.95" height="13.80" fill="#ffff00" shape-rendering="crispEdges"/>
<rect x="938.50" y="838.12" width="17.55" height="13.80" fill="#ff4500" shape-rendering="crispEdges"/>
<rect x="955.80" y="838.12" width="3.85" height="13.80" fill="#00fa8a" shape-rendering="crispEdges"/>
<rect x="959.40" y="838.12" width="16.25" height="13.80" fill="#ff1493" shape-rendering="crispEdges"/>
<rect x="975.40" y="838.12" width="12.35" height="13.80" fill="#8b4789" shape-rendering="crispEdges"/>
<rect x="987.50" y="838.12" width="19.00" height="13.80" fill="#ff6a6a" shape-rendering="crispEdges"/>
<rect x="1006.25" y="838.12" width="15.90" height="13.80" fill="#ffb90f" shape-rendering="crispEdges"/>
<rect x="1021.90" y="838.12" width="2.35" height="13.80" fill="#00ff00" shape-rendering="crispEdges"/>
<rect x="1024.00" y="838.12" width="22.05" height="13.80" fill="#a6cee3" shape-rendering="crispEdges"/>
<rect x="1045.80" y="838.12" width="31.15" height="13.80" fill="#1f78b4" shape-rendering="crispEdges"/>
<rect x="1076.70" y="838.12" width="32.30" height="13.80" fill="#b2df8a" shape-rendering="crispEdges"/>
<rect x="1108.75" y="838.12" width="38.90" height="13.80" fill="#33a02c" shape-rendering="crispEdges"/>
<text x="754.60" y="847.42" font-family="Liberation Sans" font-size="9" text-anchor="end" fill="#000" >B02</text>
<rect x="756.40" y="863.34" width="199.05" height="13.80" fill="#0000ff" shape-rendering="crispEdges"/>
<rect x="955.20" y="863.34" width="1.30" height="13.80" fill="#458b00" shape-rendering="crispEdges"/>
<rect x="956.25" y="863.34" width="5.00" height="13.80" fill="#ffff00" shape-rendering="crispEdges"/>
<rect x="961.00" y="863.34" width="2.15" height="13.80" fill="#ff4500" shape-rendering="crispEdges"/>
<rect x="962.90" y="863.34" width="14.45" height="13.80" fill="#00fa8a" shape-rendering="crispEdges"/>
<rect x="977.10" y="863.34" width="21.05" height="13.80" fill="#ff1493" shape-rendering="crispEdges"/>
<rect x="997.90" y="863.34" width="8.15" height="13.80" fill="#8b4789" shape-rendering="crispEdges"/>
<rect x="1005.80" y="863.34" width="10.70" height="13.80" fill="#ff6a6a" shape-rendering="crispEdges"/>
<rect x="1016.25" y="863.34" width="10.70" height="13.80" fill="#ffb90f" shape-rendering="crispEdges"/>
<rect x="1026.70" y="863.34" width="29.80" height="13.80" fill="#ff7f24" shape-rendering="crispEdges"/>
<rect x="1056.25" y="863.34" width="15.90" height="13.80" fill="#a6cee3" shape-rendering="crispEdges"/>
<rect x="1071.90" y="863.34" width="13.15" height="13.80" fill="#1f78b4" shape-rendering="crispEdges"/>
<rect x="1084.80" y="863.34" width="30.65" height="13.80" fill="#b2df8a" shape-rendering="crispEdges"/>
<rect x="1115.20" y="863.34" width="32.45" height="13.80" fill="#33a02c" shape-rendering="crispEdges"/>
<text x="754.60" y="872.64" font-family="Liberation Sans" font-size="9" text-anchor="end" fill="#000" >B04</text>
<rect x="756.40" y="888.56" width="176.15" height="13.80" fill="#0000ff" shape-rendering="crispEdges"/>
<rect x="932.30" y="888.56" width="2.35" height="13.80" fill="#8a2be2" shape-rendering="crispEdges"/>
<rect x="934.40" y="888.56" width="12.75" height="13.80" fill="#ffff00" shape-rendering="crispEdges"/>
<rect x="946.90" y="888.56" width="40.45" height="13.80" fill="#ff4500" shape-rendering="crispEdges"/>
<rect x="987.10" y="888.56" width="2.35" height="13.80" fill="#00fa8a" shape-rendering="crispEdges"/>
<rect x="989.20" y="888.56" width="8.55" height="13.80" fill="#ff1493" shape-rendering="crispEdges"/>
<rect x="997.50" y="888.56" width="28.75" height="13.80" fill="#8b4789" shape-rendering="crispEdges"/>
<rect x="1026.00" y="888.56" width="12.15" height="13.80" fill="#ff6a6a" shape-rendering="crispEdges"/>
<rect x="1037.90" y="888.56" width="9.25" height="13.80" fill="#ffb90f" shape-rendering="crispEdges"/>
<rect x="1046.90" y="888.56" width="8.55" height="13.80" fill="#ff7f24" shape-rendering="crispEdges"/>
<rect x="1055.20" y="888.56" width="17.95" height="13.80" fill="#a6cee3" shape-rendering="crispEdges"/>
<rect x="1072.90" y="888.56" width="17.55" height="13.80" fill="#1f78b4" shape-rendering="crispEdges"/>
<rect x="1090.20" y="888.56" width="13.15" height="13.80" fill="#b2df8a" shape-rendering="crispEdges"/>
<rect x="1103.10" y="888.56" width="44.55" height="13.80" fill="#33a02c" shape-rendering="crispEdges"/>
<text x="754.60" y="897.86" font-family="Liberation Sans" font-size="9" text-anchor="end" fill="#000" >B03</text>
<rect x="756.40" y="913.78" width="165.85" height="13.80" fill="#0000ff" shape-rendering="crispEdges"/>
<rect x="922.00" y="913.78" width="2.00" height="13.80" fill="#00f0ff" shape-rendering="crispEdges"/>
<rect x="923.75" y="913.78" width="8.25" height="13.80" fill="#ffff00" shape-rendering="crispEdges"/>
<rect x="931.75" y="913.78" width="21.50" height="13.80" fill="#ff4500" shape-rendering="crispEdges"/>
<rect x="953.00" y="913.78" width="7.25" height="13.80" fill="#00fa8a" shape-rendering="crispEdges"/>
<rect x="960.00" y="913.78" width="12.75" height="13.80" fill="#ff1493" shape-rendering="crispEdges"/>
<rect x="972.50" y="913.78" width="45.75" height="13.80" fill="#8b4789" shape-rendering="crispEdges"/>
<rect x="1018.00" y="913.78" width="8.50" height="13.80" fill="#ffb90f" shape-rendering="crispEdges"/>
<rect x="1026.25" y="913.78" width="2.00" height="13.80" fill="#00ff00" shape-rendering="crispEdges"/>
<rect x="1028.00" y="913.78" width="33.00" height="13.80" fill="#ff7f24" shape-rendering="crispEdges"/>
<rect x="1060.75" y="913.78" width="6.25" height="13.80" fill="#a6cee3" shape-rendering="crispEdges"/>
<rect x="1066.75" y="913.78" width="15.50" height="13.80" fill="#1f78b4" shape-rendering="crispEdges"/>
<rect x="1082.00" y="913.78" width="14.00" height="13.80" fill="#b2df8a" shape-rendering="crispEdges"/>
<rect x="1095.75" y="913.78" width="51.90" height="13.80" fill="#33a02c" shape-rendering="crispEdges"/>
<text x="754.60" y="923.08" font-family="Liberation Sans" font-size="9" text-anchor="end" fill="#000" >B05</text>
<rect x="756.40" y="939.00" width="105.10" height="13.80" fill="#0000ff" shape-rendering="crispEdges"/>
<rect x="861.25" y="939.00" width="20.25" height="13.80" fill="#ff0000" shape-rendering="crispEdges"/>
<rect x="881.25" y="939.00" width="16.50" height="13.80" fill="#8a2be2" shape-rendering="crispEdges"/>
<rect x="897.50" y="939.00" width="9.75" height="13.80" fill="#458b00" shape-rendering="crispEdges"/>
<rect x="907.00" y="939.00" width="3.75" height="13.80" fill="#ffff00" shape-rendering="crispEdges"/>
<rect x="910.50" y="939.00" width="1.75" height="13.80" fill="#00ff00" shape-rendering="crispEdges"/>
<rect x="912.00" y="939.00" width="7.00" height="13.80" fill="#ff1493" shape-rendering="crispEdges"/>
<rect x="918.75" y="939.00" width="20.25" height="13.80" fill="#ff6a6a" shape-rendering="crispEdges"/>
<rect x="938.75" y="939.00" width="27.00" height="13.80" fill="#ffb90f" shape-rendering="crispEdges"/>
<rect x="965.50" y="939.00" width="104.75" height="13.80" fill="#00ff00" shape-rendering="crispEdges"/>
<rect x="1070.00" y="939.00" width="3.25" height="13.80" fill="#ff7f24" shape-rendering="crispEdges"/>
<rect x="1073.00" y="939.00" width="28.00" height="13.80" fill="#a6cee3" shape-rendering="crispEdges"/>
<rect x="1100.75" y="939.00" width="9.50" height="13.80" fill="#1f78b4" shape-rendering="crispEdges"/>
<rect x="1110.00" y="939.00" width="24.00" height="13.80" fill="#b2df8a" shape-rendering="crispEdges"/>
<rect x="1133.75" y="939.00" width="13.90" height="13.80" fill="#33a02c" shape-rendering="crispEdges"/>
<text x="754.60" y="948.30" font-family="Liberation Sans" font-size="9" text-anchor="end" fill="#000" >C01</text>
<rect x="756.40" y="964.22" width="202.85" height="13.80" fill="#0000ff" shape-rendering="crispEdges"/>
<rect x="959.00" y="964.22" width="23.75" height="13.80" fill="#005c00" shape-rendering="crispEdges"/>
<rect x="982.50" y="964.22" width="4.50" height="13.80" fill="#8a2be2" shape-rendering="crispEdges"/>
<rect x="986.75" y="964.22" width="20.50" height="13.80" fill="#00f0ff" shape-rendering="crispEdges"/>
<rect x="1007.00" y="964.22" width="19.50" height="13.80" fill="#458b00" shape-rendering="crispEdges"/>
<rect x="1026.25" y="964.22" width="3.50" height="13.80" fill="#ffff00" shape-rendering="crispEdges"/>
<rect x="1029.50" y="964.22" width="5.00" height="13.80" fill="#ff1493" shape-rendering="crispEdges"/>
<rect x="1034.25" y="964.22" width="18.00" height="13.80" fill="#ff6a6a" shape-rendering="crispEdges"/>
<rect x="1052.00" y="964.22" width="13.25" height="13.80" fill="#ffb90f" shape-rendering="crispEdges"/>
<rect x="1065.00" y="964.22" width="9.00" height="13.80" fill="#00ff00" shape-rendering="crispEdges"/>
<rect x="1073.75" y="964.22" width="17.00" height="13.80" fill="#ff7f24" shape-rendering="crispEdges"/>
<rect x="1090.50" y="964.22" width="19.00" height="13.80" fill="#a6cee3" shape-rendering="crispEdges"/>
<rect x="1109.25" y="964.22" width="21.00" height="13.80" fill="#1f78b4" shape-rendering="crispEdges"/>
<rect x="1130.00" y="964.22" width="10.25" height="13.80" fill="#b2df8a" shape-rendering="crispEdges"/>
<rect x="1140.00" y="964.22" width="7.65" height="13.80" fill="#33a02c" shape-rendering="crispEdges"/>
<text x="754.60" y="973.52" font-family="Liberation Sans" font-size="9" text-anchor="end" fill="#000" >C03</text>
<rect x="756.40" y="989.44" width="197.10" height="13.80" fill="#0000ff" shape-rendering="crispEdges"/>
<rect x="953.25" y="989.44" width="1.50" height="13.80" fill="#ff0000" shape-rendering="crispEdges"/>
<rect x="954.50" y="989.44" width="3.25" height="13.80" fill="#8a2be2" shape-rendering="crispEdges"/>
<rect x="957.50" y="989.44" width="19.75" height="13.80" fill="#00f0ff" shape-rendering="crispEdges"/>
<rect x="977.00" y="989.44" width="25.25" height="13.80" fill="#458b00" shape-rendering="crispEdges"/>
<rect x="1002.00" y="989.44" width="5.25" height="13.80" fill="#ffff00" shape-rendering="crispEdges"/>
<rect x="1007.00" y="989.44" width="7.75" height="13.80" fill="#ff1493" shape-rendering="crispEdges"/>
<rect x="1014.50" y="989.44" width="17.00" height="13.80" fill="#ff6a6a" shape-rendering="crispEdges"/>
<rect x="1031.25" y="989.44" width="11.00" height="13.80" fill="#ffb90f" shape-rendering="crispEdges"/>
<rect x="1042.00" y="989.44" width="13.25" height="13.80" fill="#00ff00" shape-rendering="crispEdges"/>
<rect x="1055.00" y="989.44" width="3.25" height="13.80" fill="#ff7f24" shape-rendering="crispEdges"/>
<rect x="1058.00" y="989.44" width="9.25" height="13.80" fill="#a6cee3" shape-rendering="crispEdges"/>
<rect x="1067.00" y="989.44" width="14.50" height="13.80" fill="#1f78b4" shape-rendering="crispEdges"/>
<rect x="1081.25" y="989.44" width="26.50" height="13.80" fill="#b2df8a" shape-rendering="crispEdges"/>
<rect x="1107.50" y="989.44" width="40.15" height="13.80" fill="#33a02c" shape-rendering="crispEdges"/>
<text x="754.60" y="998.74" font-family="Liberation Sans" font-size="9" text-anchor="end" fill="#000" >C05</text>
<rect x="756.40" y="1014.66" width="157.10" height="13.80" fill="#0000ff" shape-rendering="crispEdges"/>
<rect x="913.25" y="1014.66" width="3.25" height="13.80" fill="#ff0000" shape-rendering="crispEdges"/>
<rect x="916.25" y="1014.66" width="2.75" height="13.80" fill="#8a2be2" shape-rendering="crispEdges"/>
<rect x="918.75" y="1014.66" width="22.75" height="13.80" fill="#00f0ff" shape-rendering="crispEdges"/>
<rect x="941.25" y="1014.66" width="20.75" height="13.80" fill="#458b00" shape-rendering="crispEdges"/>
<rect x="961.75" y="1014.66" width="27.25" height="13.80" fill="#ffff00" shape-rendering="crispEdges"/>
<rect x="988.75" y="1014.66" width="7.00" height="13.80" fill="#ff1493" shape-rendering="crispEdges"/>
<rect x="995.50" y="1014.66" width="14.75" height="13.80" fill="#ff6a6a" shape-rendering="crispEdges"/>
<rect x="1010.00" y="1014.66" width="13.25" height="13.80" fill="#ffb90f" shape-rendering="crispEdges"/>
<rect x="1023.00" y="1014.66" width="29.25" height="13.80" fill="#00ff00" shape-rendering="crispEdges"/>
<rect x="1052.00" y="1014.66" width="11.50" height="13.80" fill="#ff7f24" shape-rendering="crispEdges"/>
<rect x="1063.25" y="1014.66" width="15.00" height="13.80" fill="#a6cee3" shape-rendering="crispEdges"/>
<rect x="1078.00" y="1014.66" width="22.25" height="13.80" fill="#1f78b4" shape-rendering="crispEdges"/>
<rect x="1100.00" y="1014.66" width="19.50" height="13.80" fill="#b2df8a" shape-rendering="crispEdges"/>
<rect x="1119.25" y="1014.66" width="28.40" height="13.80" fill="#33a02c" shape-rendering="crispEdges"/>
<text x="754.60" y="1023.96" font-family="Liberation Sans" font-size="9" text-anchor="end" fill="#000" >C02</text>
<rect x="756.40" y="1039.88" width="123.85" height="13.80" fill="#0000ff" shape-rendering="crispEdges"/>
<rect x="880.00" y="1039.88" width="5.75" height="13.80" fill="#ff0000" shape-rendering="crispEdges"/>
<rect x="885.50" y="1039.88" width="4.75" height="13.80" fill="#8a2be2" shape-rendering="crispEdges"/>
<rect x="890.00" y="1039.88" width="32.25" height="13.80" fill="#00f0ff" shape-rendering="crispEdges"/>
<rect x="922.00" y="1039.88" width="18.75" height="13.80" fill="#458b00" shape-rendering="crispEdges"/>
<rect x="940.50" y="1039.88" width="9.75" height="13.80" fill="#ffff00" shape-rendering="crispEdges"/>
<rect x="950.00" y="1039.88" width="6.00" height="13.80" fill="#ff1493" shape-rendering="crispEdges"/>
<rect x="955.75" y="1039.88" width="18.25" height="13.80" fill="#ff6a6a" shape-rendering="crispEdges"/>
<rect x="973.75" y="1039.88" width="13.25" height="13.80" fill="#ffb90f" shape-rendering="crispEdges"/>
<rect x="986.75" y="1039.88" width="48.50" height="13.80" fill="#00ff00" shape-rendering="crispEdges"/>
<rect x="1035.00" y="1039.88" width="2.75" height="13.80" fill="#ff7f24" shape-rendering="crispEdges"/>
<rect x="1037.50" y="1039.88" width="19.00" height="13.80" fill="#a6cee3" shape-rendering="crispEdges"/>
<rect x="1056.25" y="1039.88" width="13.25" height="13.80" fill="#1f78b4" shape-rendering="crispEdges"/>
<rect x="1069.25" y="1039.88" width="30.25" height="13.80" fill="#b2df8a" shape-rendering="crispEdges"/>
<rect x="1099.25" y="1039.88" width="48.40" height="13.80" fill="#33a02c" shape-rendering="crispEdges"/>
<text x="754.60" y="1049.18" font-family="Liberation Sans" font-size="9" text-anchor="end" fill="#000" >C04</text>
<line x1="757.20" y1="1059.70" x2="1146.60" y2="1059.70" stroke="#000" stroke-width="1.5" />
<line x1="757.20" y1="1059.70" x2="757.20" y2="1063.00" stroke="#000" stroke-width="1.3" />
<text x="757.20" y="1072.90" font-family="Liberation Sans" font-size="9" text-anchor="middle" fill="#222" >0</text>
<line x1="796.14" y1="1059.70" x2="796.14" y2="1063.00" stroke="#000" stroke-width="1.3" />
<text x="796.14" y="1072.90" font-family="Liberation Sans" font-size="9" text-anchor="middle" fill="#222" >0.1</text>
<line x1="835.08" y1="1059.70" x2="835.08" y2="1063.00" stroke="#000" stroke-width="1.3" />
<text x="835.08" y="1072.90" font-family="Liberation Sans" font-size="9" text-anchor="middle" fill="#222" >0.2</text>
<line x1="874.02" y1="1059.70" x2="874.02" y2="1063.00" stroke="#000" stroke-width="1.3" />
<text x="874.02" y="1072.90" font-family="Liberation Sans" font-size="9" text-anchor="middle" fill="#222" >0.3</text>
<line x1="912.96" y1="1059.70" x2="912.96" y2="1063.00" stroke="#000" stroke-width="1.3" />
<text x="912.96" y="1072.90" font-family="Liberation Sans" font-size="9" text-anchor="middle" fill="#222" >0.4</text>
<line x1="951.90" y1="1059.70" x2="951.90" y2="1063.00" stroke="#000" stroke-width="1.3" />
<text x="951.90" y="1072.90" font-family="Liberation Sans" font-size="9" text-anchor="middle" fill="#222" >0.5</text>
<line x1="990.84" y1="1059.70" x2="990.84" y2="1063.00" stroke="#000" stroke-width="1.3" />
<text x="990.84" y="1072.90" font-family="Liberation Sans" font-size="9" text-anchor="middle" fill="#222" >0.6</text>
<line x1="1029.78" y1="1059.70" x2="1029.78" y2="1063.00" stroke="#000" stroke-width="1.3" />
<text x="1029.78" y="1072.90" font-family="Liberation Sans" font-size="9" text-anchor="middle" fill="#222" >0.7</text>
<line x1="1068.72" y1="1059.70" x2="1068.72" y2="1063.00" stroke="#000" stroke-width="1.3" />
<text x="1068.72" y="1072.90" font-family="Liberation Sans" font-size="9" text-anchor="middle" fill="#222" >0.8</text>
<line x1="1107.66" y1="1059.70" x2="1107.66" y2="1063.00" stroke="#000" stroke-width="1.3" />
<text x="1107.66" y="1072.90" font-family="Liberation Sans" font-size="9" text-anchor="middle" fill="#222" >0.9</text>
<line x1="1146.60" y1="1059.70" x2="1146.60" y2="1063.00" stroke="#000" stroke-width="1.3" />
<text x="1146.60" y="1072.90" font-family="Liberation Sans" font-size="9" text-anchor="middle" fill="#222" >1</text>
<line x1="651.50" y1="1058.50" x2="732.50" y2="1058.50" stroke="#000" stroke-width="1.5" />
<line x1="651.50" y1="1058.50" x2="651.50" y2="1062.00" stroke="#000" stroke-width="1.3" />
<text x="651.50" y="1072.90" font-family="Liberation Sans" font-size="9" text-anchor="middle" fill="#222" >0.3</text>
<line x1="678.50" y1="1058.50" x2="678.50" y2="1062.00" stroke="#000" stroke-width="1.3" />
<text x="678.50" y="1072.90" font-family="Liberation Sans" font-size="9" text-anchor="middle" fill="#222" >0.2</text>
<line x1="705.50" y1="1058.50" x2="705.50" y2="1062.00" stroke="#000" stroke-width="1.3" />
<text x="705.50" y="1072.90" font-family="Liberation Sans" font-size="9" text-anchor="middle" fill="#222" >0.1</text>
<line x1="732.50" y1="1058.50" x2="732.50" y2="1062.00" stroke="#000" stroke-width="1.3" />
<text x="732.50" y="1072.90" font-family="Liberation Sans" font-size="9" text-anchor="middle" fill="#222" >0</text>
<line x1="651.20" y1="692.50" x2="732.00" y2="692.50" stroke="#f03232" stroke-width="1.85" stroke-linecap="square"/>
<line x1="675.00" y1="718.20" x2="732.00" y2="718.20" stroke="#f03232" stroke-width="1.85" stroke-linecap="square"/>
<line x1="685.30" y1="743.30" x2="732.00" y2="743.30" stroke="#f03232" stroke-width="1.85" stroke-linecap="square"/>
<line x1="692.10" y1="767.50" x2="732.00" y2="767.50" stroke="#f03232" stroke-width="1.85" stroke-linecap="square"/>
<line x1="692.10" y1="792.70" x2="732.00" y2="792.70" stroke="#f03232" stroke-width="1.85" stroke-linecap="square"/>
<line x1="692.10" y1="767.50" x2="692.10" y2="792.70" stroke="#f03232" stroke-width="1.85" stroke-linecap="square"/>
<line x1="685.30" y1="780.10" x2="692.10" y2="780.10" stroke="#f03232" stroke-width="1.85" stroke-linecap="square"/>
<line x1="685.30" y1="743.30" x2="685.30" y2="780.10" stroke="#f03232" stroke-width="1.85" stroke-linecap="square"/>
<line x1="679.50" y1="761.70" x2="685.30" y2="761.70" stroke="#f03232" stroke-width="1.85" stroke-linecap="square"/>
<line x1="685.90" y1="818.60" x2="732.00" y2="818.60" stroke="#1010f0" stroke-width="1.85" stroke-linecap="square"/>
<line x1="685.90" y1="843.70" x2="732.00" y2="843.70" stroke="#1010f0" stroke-width="1.85" stroke-linecap="square"/>
<line x1="685.90" y1="818.60" x2="685.90" y2="843.70" stroke="#1010f0" stroke-width="1.85" stroke-linecap="square"/>
<line x1="680.50" y1="831.20" x2="685.90" y2="831.20" stroke="#1010f0" stroke-width="1.85" stroke-linecap="square"/>
<line x1="681.70" y1="868.90" x2="732.00" y2="868.90" stroke="#1010f0" stroke-width="1.85" stroke-linecap="square"/>
<line x1="693.60" y1="894.20" x2="732.00" y2="894.20" stroke="#1010f0" stroke-width="1.85" stroke-linecap="square"/>
<line x1="693.60" y1="919.20" x2="732.00" y2="919.20" stroke="#1010f0" stroke-width="1.85" stroke-linecap="square"/>
<line x1="693.60" y1="894.20" x2="693.60" y2="919.20" stroke="#1010f0" stroke-width="1.85" stroke-linecap="square"/>
<line x1="681.70" y1="906.70" x2="693.60" y2="906.70" stroke="#1010f0" stroke-width="1.85" stroke-linecap="square"/>
<line x1="681.70" y1="868.90" x2="681.70" y2="906.70" stroke="#1010f0" stroke-width="1.85" stroke-linecap="square"/>
<line x1="680.50" y1="887.80" x2="681.70" y2="887.80" stroke="#1010f0" stroke-width="1.85" stroke-linecap="square"/>
<line x1="680.50" y1="831.20" x2="680.50" y2="887.80" stroke="#1010f0" stroke-width="1.85" stroke-linecap="square"/>
<line x1="679.50" y1="761.70" x2="679.50" y2="859.20" stroke="#000" stroke-width="1.85" stroke-linecap="square"/>
<line x1="675.00" y1="810.40" x2="679.50" y2="810.40" stroke="#000" stroke-width="1.85" stroke-linecap="square"/>
<line x1="675.00" y1="718.20" x2="675.00" y2="810.40" stroke="#000" stroke-width="1.85" stroke-linecap="square"/>
<line x1="666.40" y1="764.30" x2="675.00" y2="764.30" stroke="#000" stroke-width="1.85" stroke-linecap="square"/>
<line x1="666.40" y1="764.30" x2="666.40" y2="968.10" stroke="#000" stroke-width="1.85" stroke-linecap="square"/>
<line x1="651.20" y1="865.70" x2="666.40" y2="865.70" stroke="#000" stroke-width="1.85" stroke-linecap="square"/>
<line x1="651.20" y1="692.50" x2="651.20" y2="865.70" stroke="#000" stroke-width="1.85" stroke-linecap="square"/>
<line x1="666.40" y1="968.10" x2="673.00" y2="968.10" stroke="#a0622d" stroke-width="1.85" stroke-linecap="square"/>
<line x1="673.00" y1="944.70" x2="673.00" y2="991.70" stroke="#a0622d" stroke-width="1.85" stroke-linecap="square"/>
<line x1="673.00" y1="944.70" x2="732.00" y2="944.70" stroke="#a0622d" stroke-width="1.85" stroke-linecap="square"/>
<line x1="673.00" y1="991.70" x2="685.60" y2="991.70" stroke="#a0622d" stroke-width="1.85" stroke-linecap="square"/>
<line x1="685.60" y1="969.90" x2="685.60" y2="1014.00" stroke="#a0622d" stroke-width="1.85" stroke-linecap="square"/>
<line x1="685.60" y1="969.90" x2="732.00" y2="969.90" stroke="#a0622d" stroke-width="1.85" stroke-linecap="square"/>
<line x1="685.60" y1="1014.00" x2="694.10" y2="1014.00" stroke="#a0622d" stroke-width="1.85" stroke-linecap="square"/>
<line x1="694.10" y1="994.90" x2="694.10" y2="1032.60" stroke="#a0622d" stroke-width="1.85" stroke-linecap="square"/>
<line x1="694.10" y1="994.90" x2="732.00" y2="994.90" stroke="#a0622d" stroke-width="1.85" stroke-linecap="square"/>
<line x1="694.10" y1="1032.60" x2="697.70" y2="1032.60" stroke="#a0622d" stroke-width="1.85" stroke-linecap="square"/>
<line x1="697.70" y1="1020.00" x2="697.70" y2="1045.30" stroke="#a0622d" stroke-width="1.85" stroke-linecap="square"/>
<line x1="697.70" y1="1020.00" x2="732.00" y2="1020.00" stroke="#a0622d" stroke-width="1.85" stroke-linecap="square"/>
<line x1="697.70" y1="1045.30" x2="732.00" y2="1045.30" stroke="#a0622d" stroke-width="1.85" stroke-linecap="square"/>
<line x1="642.20" y1="1008.50" x2="648.30" y2="1008.50" stroke="#a0622d" stroke-width="1.6" />
<text x="650.3" y="1010.90" font-family="Liberation Sans" font-size="7" fill="#222" textLength="19.5" lengthAdjust="spacingAndGlyphs">Control</text>
<line x1="642.20" y1="1022.30" x2="648.30" y2="1022.30" stroke="#f03232" stroke-width="1.6" />
<text x="650.3" y="1024.70" font-family="Liberation Sans" font-size="7" fill="#222" textLength="11.5" lengthAdjust="spacingAndGlyphs">T1D</text>
<line x1="642.20" y1="1036.20" x2="648.30" y2="1036.20" stroke="#1010f0" stroke-width="1.6" />
<text x="650.3" y="1038.60" font-family="Liberation Sans" font-size="7" fill="#222" textLength="26.5" lengthAdjust="spacingAndGlyphs">T1D+NaB</text>
<rect x="1162.10" y="686.10" width="8.80" height="8.10" fill="#0000ff" />
<text x="1172.2" y="693.00" font-family="Liberation Sans" font-size="8.6" fill="#333" textLength="22.8" lengthAdjust="spacingAndGlyphs">others</text>
<rect x="1162.10" y="696.44" width="8.80" height="8.10" fill="#005c00" />
<text x="1172.2" y="703.54" font-family="Liberation Sans" font-size="8.6" fill="#333"><tspan textLength="23.3" lengthAdjust="spacingAndGlyphs">OTU48</tspan><tspan font-size="7" dy="-2.4">7</tspan></text>
<rect x="1162.10" y="706.78" width="8.80" height="8.10" fill="#ff0000" />
<text x="1172.2" y="713.88" font-family="Liberation Sans" font-size="8.6" fill="#333"><tspan textLength="23.3" lengthAdjust="spacingAndGlyphs">OTU54</tspan><tspan font-size="7" dy="-2.4">3</tspan></text>
<rect x="1162.10" y="717.12" width="8.80" height="8.10" fill="#8a2be2" />
<text x="1172.2" y="724.22" font-family="Liberation Sans" font-size="8.6" fill="#333" textLength="23.5" lengthAdjust="spacingAndGlyphs">OTU46</text>
<rect x="1162.10" y="727.46" width="8.80" height="8.10" fill="#00f0ff" />
<text x="1172.2" y="734.56" font-family="Liberation Sans" font-size="8.6" fill="#333"><tspan textLength="23.3" lengthAdjust="spacingAndGlyphs">OTU50</tspan><tspan font-size="7" dy="-2.4">9</tspan></text>
<rect x="1162.10" y="737.80" width="8.80" height="8.10" fill="#458b00" />
<text x="1172.2" y="744.90" font-family="Liberation Sans" font-size="8.6" fill="#333"><tspan textLength="23.3" lengthAdjust="spacingAndGlyphs">OTU37</tspan><tspan font-size="7" dy="-2.4">7</tspan></text>
<rect x="1162.10" y="748.14" width="8.80" height="8.10" fill="#ffff00" />
<text x="1172.2" y="755.24" font-family="Liberation Sans" font-size="8.6" fill="#333"><tspan textLength="23.3" lengthAdjust="spacingAndGlyphs">OTU35</tspan><tspan font-size="7" dy="-2.4">4</tspan></text>
<rect x="1162.10" y="758.48" width="8.80" height="8.10" fill="#ff4500" />
<text x="1172.2" y="765.58" font-family="Liberation Sans" font-size="8.6" fill="#333"><tspan textLength="23.3" lengthAdjust="spacingAndGlyphs">OTU31</tspan><tspan font-size="7" dy="-2.4">7</tspan></text>
<rect x="1162.10" y="768.82" width="8.80" height="8.10" fill="#00fa8a" />
<text x="1172.2" y="775.92" font-family="Liberation Sans" font-size="8.6" fill="#333"><tspan textLength="23.3" lengthAdjust="spacingAndGlyphs">OTU23</tspan><tspan font-size="7" dy="-2.4">2</tspan></text>
<rect x="1162.10" y="779.16" width="8.80" height="8.10" fill="#ff1493" />
<text x="1172.2" y="786.26" font-family="Liberation Sans" font-size="8.6" fill="#333"><tspan textLength="23.3" lengthAdjust="spacingAndGlyphs">OTU54</tspan><tspan font-size="7" dy="-2.4">0</tspan></text>
<rect x="1162.10" y="789.50" width="8.80" height="8.10" fill="#8b4789" />
<text x="1172.2" y="796.60" font-family="Liberation Sans" font-size="8.6" fill="#333" textLength="23.5" lengthAdjust="spacingAndGlyphs">OTU18</text>
<rect x="1162.10" y="799.84" width="8.80" height="8.10" fill="#ff6a6a" />
<text x="1172.2" y="806.94" font-family="Liberation Sans" font-size="8.6" fill="#333"><tspan textLength="23.3" lengthAdjust="spacingAndGlyphs">OTU52</tspan><tspan font-size="7" dy="-2.4">4</tspan></text>
<rect x="1162.10" y="810.18" width="8.80" height="8.10" fill="#ffb90f" />
<text x="1172.2" y="817.28" font-family="Liberation Sans" font-size="8.6" fill="#333"><tspan textLength="23.3" lengthAdjust="spacingAndGlyphs">OTU27</tspan><tspan font-size="7" dy="-2.4">2</tspan></text>
<rect x="1162.10" y="820.52" width="8.80" height="8.10" fill="#00ff00" />
<text x="1172.2" y="827.62" font-family="Liberation Sans" font-size="8.6" fill="#333"><tspan textLength="23.3" lengthAdjust="spacingAndGlyphs">OTU24</tspan><tspan font-size="7" dy="-2.4">5</tspan></text>
<rect x="1162.10" y="830.86" width="8.80" height="8.10" fill="#ff7f24" />
<text x="1172.2" y="837.96" font-family="Liberation Sans" font-size="8.6" fill="#333"><tspan textLength="23.3" lengthAdjust="spacingAndGlyphs">OTU48</tspan><tspan font-size="7" dy="-2.4">4</tspan></text>
<rect x="1162.10" y="841.20" width="8.80" height="8.10" fill="#a6cee3" />
<text x="1172.2" y="848.30" font-family="Liberation Sans" font-size="8.6" fill="#333"><tspan textLength="23.3" lengthAdjust="spacingAndGlyphs">OTU36</tspan><tspan font-size="7" dy="-2.4">4</tspan></text>
<rect x="1162.10" y="851.54" width="8.80" height="8.10" fill="#1f78b4" />
<text x="1172.2" y="858.64" font-family="Liberation Sans" font-size="8.6" fill="#333" textLength="23.5" lengthAdjust="spacingAndGlyphs">OTU79</text>
<rect x="1162.10" y="861.88" width="8.80" height="8.10" fill="#b2df8a" />
<text x="1172.2" y="868.98" font-family="Liberation Sans" font-size="8.6" fill="#333"><tspan textLength="23.3" lengthAdjust="spacingAndGlyphs">OTU29</tspan><tspan font-size="7" dy="-2.4">1</tspan></text>
<rect x="1162.10" y="872.22" width="8.80" height="8.10" fill="#33a02c" />
<text x="1172.2" y="879.32" font-family="Liberation Sans" font-size="8.6" fill="#333"><tspan textLength="23.3" lengthAdjust="spacingAndGlyphs">OTU29</tspan><tspan font-size="7" dy="-2.4">9</tspan></text>
</svg>
</body></html>
